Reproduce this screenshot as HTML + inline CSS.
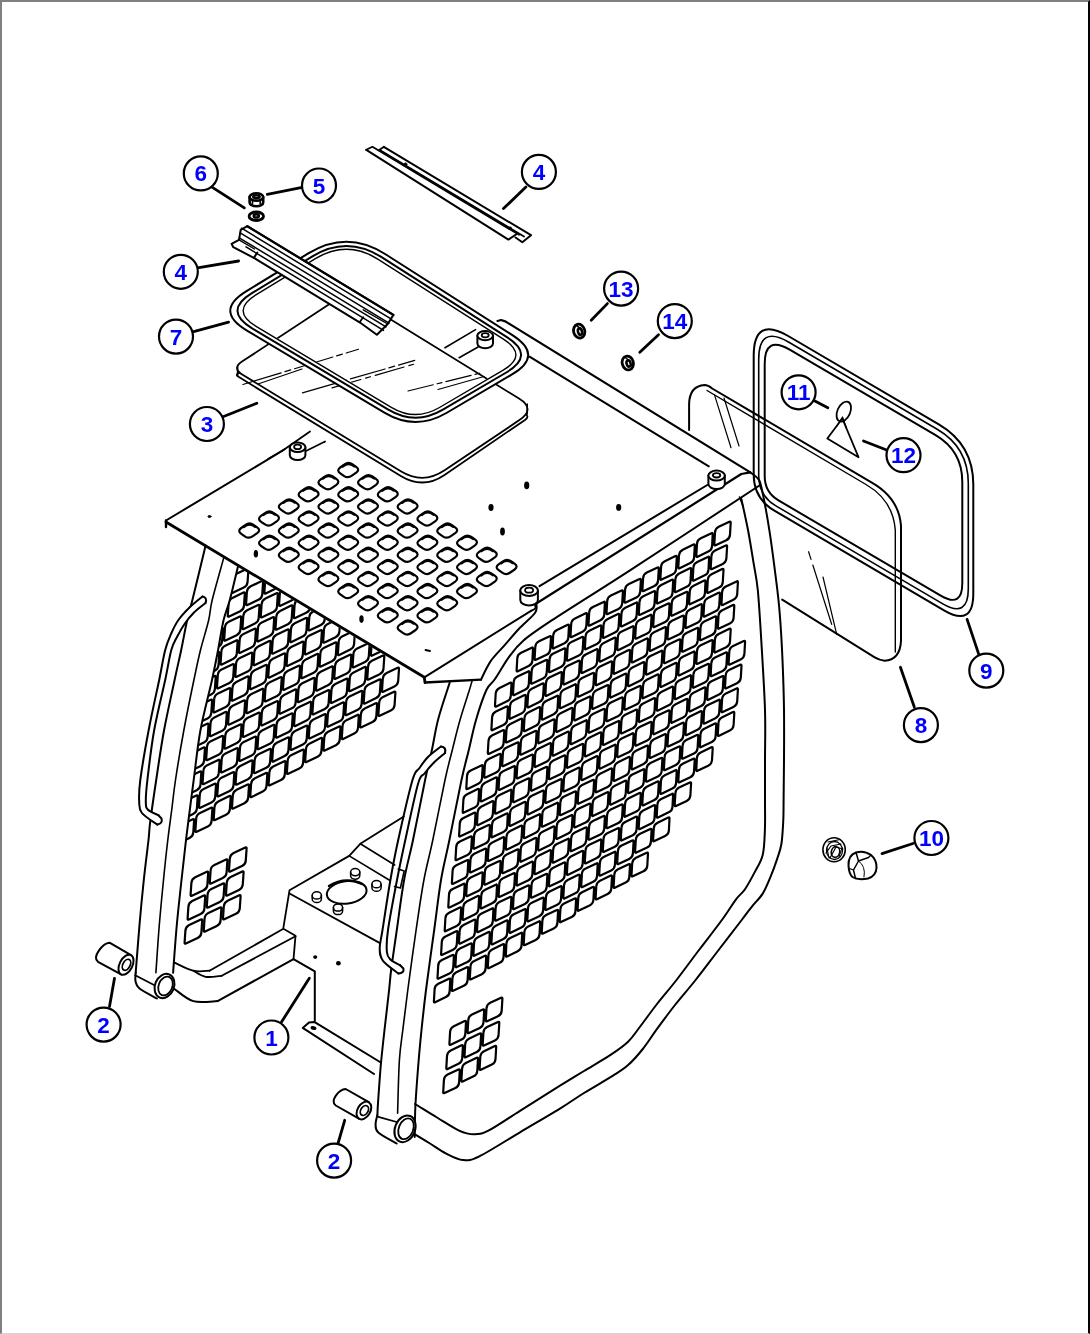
<!DOCTYPE html>
<html lang="en"><head><meta charset="utf-8"><title>Cab guard parts diagram</title>
<style>
html,body{margin:0;padding:0;background:#fff;}
body{width:1090px;height:1334px;overflow:hidden;position:relative;font-family:"Liberation Sans",sans-serif;}
#frame{position:absolute;left:0;top:0;width:1086px;height:1331px;border-top:2px solid #808080;border-left:2px solid #808080;border-right:2px solid #000;border-bottom:1px solid #d8d6d0;background:#fff;}
svg{position:absolute;left:0;top:0;filter:blur(0.45px);}
svg path,svg ellipse,svg circle{fill:none;stroke:#000;stroke-linecap:round;stroke-linejoin:round;}
svg .wf{fill:#fff;}
svg .bf{fill:#000;}
svg text{font-family:"Liberation Sans",sans-serif;font-weight:bold;font-size:22.5px;fill:#0000ff;text-anchor:middle;}
</style></head><body>
<div id="frame"></div>
<svg width="1090" height="1334" viewBox="0 0 1090 1334">
<path d="M166 527 L166 520.5" stroke-width="2.4" />
<path d="M166 520.5 L282 451" stroke-width="2" />
<path d="M166 522 L424.3 677.3 L425 682.5" stroke-width="2.8" />
<path d="M425 682.5 L481 679.6" stroke-width="2.4" />
<path d="M424.3 677.3 L531 610.8" stroke-width="2" />
<path d="M531 610.8 C531.8 610.3 535 609.5 535.5 608 C536 606.5 534.2 603 534 602" stroke-width="1.8" />
<path d="M497.5 321 L501 320 L505.3 321.4 L750.3 472.4" stroke-width="2.2" />
<path d="M529.5 356.7 L708.8 466.3" stroke-width="2" />
<path d="M707.3 485 L539.5 586.2" stroke-width="2" />
<path d="M750.3 472.4 L741.3 474 L536.3 603.5" stroke-width="2.2" />
<path d="M241.3 533.9 Q237.2 531 241.2 528 L245.5 525 Q249.5 522 253.6 524.9 L257.1 527.3 Q261.2 530.2 257.2 533.2 L252.9 536.2 Q248.9 539.2 244.8 536.3Z" stroke-width="2.2" />
<path d="M243.7 527 Q249.5 522 255.2 526.8" stroke-width="2.4" />
<path d="M261.1 546 Q257 543.1 261 540.1 L265.3 537.1 Q269.3 534.1 273.4 537 L276.9 539.4 Q281 542.3 277 545.3 L272.7 548.3 Q268.7 551.3 264.6 548.4Z" stroke-width="2.2" />
<path d="M263.5 539.1 Q269.3 534.1 275 538.9" stroke-width="2.4" />
<path d="M280.9 558.1 Q276.8 555.2 280.8 552.2 L285.1 549.2 Q289.1 546.2 293.2 549.1 L296.7 551.5 Q300.8 554.4 296.8 557.4 L292.5 560.4 Q288.5 563.4 284.4 560.5Z" stroke-width="2.2" />
<path d="M283.3 551.2 Q289.1 546.2 294.8 551" stroke-width="2.4" />
<path d="M300.7 570.2 Q296.6 567.3 300.6 564.3 L304.9 561.3 Q308.9 558.3 313 561.2 L316.5 563.6 Q320.6 566.5 316.6 569.5 L312.3 572.5 Q308.3 575.5 304.2 572.6Z" stroke-width="2.2" />
<path d="M303.1 563.3 Q308.9 558.3 314.6 563.1" stroke-width="2.4" />
<path d="M320.5 582.3 Q316.4 579.4 320.4 576.4 L324.7 573.4 Q328.7 570.4 332.8 573.3 L336.3 575.7 Q340.4 578.6 336.4 581.6 L332.1 584.6 Q328.1 587.6 324 584.7Z" stroke-width="2.2" />
<path d="M322.9 575.4 Q328.7 570.4 334.4 575.2" stroke-width="2.4" />
<path d="M340.3 594.4 Q336.2 591.5 340.2 588.5 L344.5 585.5 Q348.5 582.5 352.6 585.4 L356.1 587.8 Q360.2 590.7 356.2 593.7 L351.9 596.7 Q347.9 599.7 343.8 596.8Z" stroke-width="2.2" />
<path d="M342.7 587.5 Q348.5 582.5 354.2 587.3" stroke-width="2.4" />
<path d="M360.1 606.5 Q356 603.6 360 600.6 L364.3 597.6 Q368.3 594.6 372.4 597.5 L375.9 599.9 Q380 602.8 376 605.8 L371.7 608.8 Q367.7 611.8 363.6 608.9Z" stroke-width="2.2" />
<path d="M362.5 599.6 Q368.3 594.6 374 599.4" stroke-width="2.4" />
<path d="M379.9 618.6 Q375.8 615.7 379.8 612.7 L384.1 609.7 Q388.1 606.7 392.2 609.6 L395.7 612 Q399.8 614.9 395.8 617.9 L391.5 620.9 Q387.5 623.9 383.4 621Z" stroke-width="2.2" />
<path d="M382.3 611.7 Q388.1 606.7 393.8 611.5" stroke-width="2.4" />
<path d="M399.7 630.7 Q395.6 627.8 399.6 624.8 L403.9 621.8 Q407.9 618.8 412 621.7 L415.5 624.1 Q419.6 627 415.6 630 L411.3 633 Q407.3 636 403.2 633.1Z" stroke-width="2.2" />
<path d="M402.1 623.8 Q407.9 618.8 413.6 623.6" stroke-width="2.4" />
<path d="M261.1 521.8 Q257 518.9 261 515.9 L265.3 512.9 Q269.3 509.9 273.4 512.8 L276.9 515.2 Q281 518.1 277 521.1 L272.7 524.1 Q268.7 527.1 264.6 524.2Z" stroke-width="2.2" />
<path d="M263.5 514.9 Q269.3 509.9 275 514.7" stroke-width="2.4" />
<path d="M280.9 533.9 Q276.8 531 280.8 528 L285.1 525 Q289.1 522 293.2 524.9 L296.7 527.3 Q300.8 530.2 296.8 533.2 L292.5 536.2 Q288.5 539.2 284.4 536.3Z" stroke-width="2.2" />
<path d="M283.3 527 Q289.1 522 294.8 526.8" stroke-width="2.4" />
<path d="M300.7 546 Q296.6 543.1 300.6 540.1 L304.9 537.1 Q308.9 534.1 313 537 L316.5 539.4 Q320.6 542.3 316.6 545.3 L312.3 548.3 Q308.3 551.3 304.2 548.4Z" stroke-width="2.2" />
<path d="M303.1 539.1 Q308.9 534.1 314.6 538.9" stroke-width="2.4" />
<path d="M320.5 558.1 Q316.4 555.2 320.4 552.2 L324.7 549.2 Q328.7 546.2 332.8 549.1 L336.3 551.5 Q340.4 554.4 336.4 557.4 L332.1 560.4 Q328.1 563.4 324 560.5Z" stroke-width="2.2" />
<path d="M322.9 551.2 Q328.7 546.2 334.4 551" stroke-width="2.4" />
<path d="M340.3 570.2 Q336.2 567.3 340.2 564.3 L344.5 561.3 Q348.5 558.3 352.6 561.2 L356.1 563.6 Q360.2 566.5 356.2 569.5 L351.9 572.5 Q347.9 575.5 343.8 572.6Z" stroke-width="2.2" />
<path d="M342.7 563.3 Q348.5 558.3 354.2 563.1" stroke-width="2.4" />
<path d="M360.1 582.3 Q356 579.4 360 576.4 L364.3 573.4 Q368.3 570.4 372.4 573.3 L375.9 575.7 Q380 578.6 376 581.6 L371.7 584.6 Q367.7 587.6 363.6 584.7Z" stroke-width="2.2" />
<path d="M362.5 575.4 Q368.3 570.4 374 575.2" stroke-width="2.4" />
<path d="M379.9 594.4 Q375.8 591.5 379.8 588.5 L384.1 585.5 Q388.1 582.5 392.2 585.4 L395.7 587.8 Q399.8 590.7 395.8 593.7 L391.5 596.7 Q387.5 599.7 383.4 596.8Z" stroke-width="2.2" />
<path d="M382.3 587.5 Q388.1 582.5 393.8 587.3" stroke-width="2.4" />
<path d="M399.7 606.5 Q395.6 603.6 399.6 600.6 L403.9 597.6 Q407.9 594.6 412 597.5 L415.5 599.9 Q419.6 602.8 415.6 605.8 L411.3 608.8 Q407.3 611.8 403.2 608.9Z" stroke-width="2.2" />
<path d="M402.1 599.6 Q407.9 594.6 413.6 599.4" stroke-width="2.4" />
<path d="M419.5 618.6 Q415.4 615.7 419.4 612.7 L423.7 609.7 Q427.7 606.7 431.8 609.6 L435.3 612 Q439.4 614.9 435.4 617.9 L431.1 620.9 Q427.1 623.9 423 621Z" stroke-width="2.2" />
<path d="M421.9 611.7 Q427.7 606.7 433.4 611.5" stroke-width="2.4" />
<path d="M280.9 509.7 Q276.8 506.8 280.8 503.8 L285.1 500.8 Q289.1 497.8 293.2 500.7 L296.7 503.1 Q300.8 506 296.8 509 L292.5 512 Q288.5 515 284.4 512.1Z" stroke-width="2.2" />
<path d="M283.3 502.8 Q289.1 497.8 294.8 502.6" stroke-width="2.4" />
<path d="M300.7 521.8 Q296.6 518.9 300.6 515.9 L304.9 512.9 Q308.9 509.9 313 512.8 L316.5 515.2 Q320.6 518.1 316.6 521.1 L312.3 524.1 Q308.3 527.1 304.2 524.2Z" stroke-width="2.2" />
<path d="M303.1 514.9 Q308.9 509.9 314.6 514.7" stroke-width="2.4" />
<path d="M320.5 533.9 Q316.4 531 320.4 528 L324.7 525 Q328.7 522 332.8 524.9 L336.3 527.3 Q340.4 530.2 336.4 533.2 L332.1 536.2 Q328.1 539.2 324 536.3Z" stroke-width="2.2" />
<path d="M322.9 527 Q328.7 522 334.4 526.8" stroke-width="2.4" />
<path d="M340.3 546 Q336.2 543.1 340.2 540.1 L344.5 537.1 Q348.5 534.1 352.6 537 L356.1 539.4 Q360.2 542.3 356.2 545.3 L351.9 548.3 Q347.9 551.3 343.8 548.4Z" stroke-width="2.2" />
<path d="M342.7 539.1 Q348.5 534.1 354.2 538.9" stroke-width="2.4" />
<path d="M360.1 558.1 Q356 555.2 360 552.2 L364.3 549.2 Q368.3 546.2 372.4 549.1 L375.9 551.5 Q380 554.4 376 557.4 L371.7 560.4 Q367.7 563.4 363.6 560.5Z" stroke-width="2.2" />
<path d="M362.5 551.2 Q368.3 546.2 374 551" stroke-width="2.4" />
<path d="M379.9 570.2 Q375.8 567.3 379.8 564.3 L384.1 561.3 Q388.1 558.3 392.2 561.2 L395.7 563.6 Q399.8 566.5 395.8 569.5 L391.5 572.5 Q387.5 575.5 383.4 572.6Z" stroke-width="2.2" />
<path d="M382.3 563.3 Q388.1 558.3 393.8 563.1" stroke-width="2.4" />
<path d="M399.7 582.3 Q395.6 579.4 399.6 576.4 L403.9 573.4 Q407.9 570.4 412 573.3 L415.5 575.7 Q419.6 578.6 415.6 581.6 L411.3 584.6 Q407.3 587.6 403.2 584.7Z" stroke-width="2.2" />
<path d="M402.1 575.4 Q407.9 570.4 413.6 575.2" stroke-width="2.4" />
<path d="M419.5 594.4 Q415.4 591.5 419.4 588.5 L423.7 585.5 Q427.7 582.5 431.8 585.4 L435.3 587.8 Q439.4 590.7 435.4 593.7 L431.1 596.7 Q427.1 599.7 423 596.8Z" stroke-width="2.2" />
<path d="M421.9 587.5 Q427.7 582.5 433.4 587.3" stroke-width="2.4" />
<path d="M439.3 606.5 Q435.2 603.6 439.2 600.6 L443.5 597.6 Q447.5 594.6 451.6 597.5 L455.1 599.9 Q459.2 602.8 455.2 605.8 L450.9 608.8 Q446.9 611.8 442.8 608.9Z" stroke-width="2.2" />
<path d="M441.7 599.6 Q447.5 594.6 453.2 599.4" stroke-width="2.4" />
<path d="M300.7 497.6 Q296.6 494.7 300.6 491.7 L304.9 488.7 Q308.9 485.7 313 488.6 L316.5 491 Q320.6 493.9 316.6 496.9 L312.3 499.9 Q308.3 502.9 304.2 500Z" stroke-width="2.2" />
<path d="M303.1 490.7 Q308.9 485.7 314.6 490.5" stroke-width="2.4" />
<path d="M320.5 509.7 Q316.4 506.8 320.4 503.8 L324.7 500.8 Q328.7 497.8 332.8 500.7 L336.3 503.1 Q340.4 506 336.4 509 L332.1 512 Q328.1 515 324 512.1Z" stroke-width="2.2" />
<path d="M322.9 502.8 Q328.7 497.8 334.4 502.6" stroke-width="2.4" />
<path d="M340.3 521.8 Q336.2 518.9 340.2 515.9 L344.5 512.9 Q348.5 509.9 352.6 512.8 L356.1 515.2 Q360.2 518.1 356.2 521.1 L351.9 524.1 Q347.9 527.1 343.8 524.2Z" stroke-width="2.2" />
<path d="M342.7 514.9 Q348.5 509.9 354.2 514.7" stroke-width="2.4" />
<path d="M360.1 533.9 Q356 531 360 528 L364.3 525 Q368.3 522 372.4 524.9 L375.9 527.3 Q380 530.2 376 533.2 L371.7 536.2 Q367.7 539.2 363.6 536.3Z" stroke-width="2.2" />
<path d="M362.5 527 Q368.3 522 374 526.8" stroke-width="2.4" />
<path d="M379.9 546 Q375.8 543.1 379.8 540.1 L384.1 537.1 Q388.1 534.1 392.2 537 L395.7 539.4 Q399.8 542.3 395.8 545.3 L391.5 548.3 Q387.5 551.3 383.4 548.4Z" stroke-width="2.2" />
<path d="M382.3 539.1 Q388.1 534.1 393.8 538.9" stroke-width="2.4" />
<path d="M399.7 558.1 Q395.6 555.2 399.6 552.2 L403.9 549.2 Q407.9 546.2 412 549.1 L415.5 551.5 Q419.6 554.4 415.6 557.4 L411.3 560.4 Q407.3 563.4 403.2 560.5Z" stroke-width="2.2" />
<path d="M402.1 551.2 Q407.9 546.2 413.6 551" stroke-width="2.4" />
<path d="M419.5 570.2 Q415.4 567.3 419.4 564.3 L423.7 561.3 Q427.7 558.3 431.8 561.2 L435.3 563.6 Q439.4 566.5 435.4 569.5 L431.1 572.5 Q427.1 575.5 423 572.6Z" stroke-width="2.2" />
<path d="M421.9 563.3 Q427.7 558.3 433.4 563.1" stroke-width="2.4" />
<path d="M439.3 582.3 Q435.2 579.4 439.2 576.4 L443.5 573.4 Q447.5 570.4 451.6 573.3 L455.1 575.7 Q459.2 578.6 455.2 581.6 L450.9 584.6 Q446.9 587.6 442.8 584.7Z" stroke-width="2.2" />
<path d="M441.7 575.4 Q447.5 570.4 453.2 575.2" stroke-width="2.4" />
<path d="M459.1 594.4 Q455 591.5 459 588.5 L463.3 585.5 Q467.3 582.5 471.4 585.4 L474.9 587.8 Q479 590.7 475 593.7 L470.7 596.7 Q466.7 599.7 462.6 596.8Z" stroke-width="2.2" />
<path d="M461.5 587.5 Q467.3 582.5 473 587.3" stroke-width="2.4" />
<path d="M320.5 485.5 Q316.4 482.6 320.4 479.6 L324.7 476.6 Q328.7 473.6 332.8 476.5 L336.3 478.9 Q340.4 481.8 336.4 484.8 L332.1 487.8 Q328.1 490.8 324 487.9Z" stroke-width="2.2" />
<path d="M322.9 478.6 Q328.7 473.6 334.4 478.4" stroke-width="2.4" />
<path d="M340.3 497.6 Q336.2 494.7 340.2 491.7 L344.5 488.7 Q348.5 485.7 352.6 488.6 L356.1 491 Q360.2 493.9 356.2 496.9 L351.9 499.9 Q347.9 502.9 343.8 500Z" stroke-width="2.2" />
<path d="M342.7 490.7 Q348.5 485.7 354.2 490.5" stroke-width="2.4" />
<path d="M360.1 509.7 Q356 506.8 360 503.8 L364.3 500.8 Q368.3 497.8 372.4 500.7 L375.9 503.1 Q380 506 376 509 L371.7 512 Q367.7 515 363.6 512.1Z" stroke-width="2.2" />
<path d="M362.5 502.8 Q368.3 497.8 374 502.6" stroke-width="2.4" />
<path d="M379.9 521.8 Q375.8 518.9 379.8 515.9 L384.1 512.9 Q388.1 509.9 392.2 512.8 L395.7 515.2 Q399.8 518.1 395.8 521.1 L391.5 524.1 Q387.5 527.1 383.4 524.2Z" stroke-width="2.2" />
<path d="M382.3 514.9 Q388.1 509.9 393.8 514.7" stroke-width="2.4" />
<path d="M399.7 533.9 Q395.6 531 399.6 528 L403.9 525 Q407.9 522 412 524.9 L415.5 527.3 Q419.6 530.2 415.6 533.2 L411.3 536.2 Q407.3 539.2 403.2 536.3Z" stroke-width="2.2" />
<path d="M402.1 527 Q407.9 522 413.6 526.8" stroke-width="2.4" />
<path d="M419.5 546 Q415.4 543.1 419.4 540.1 L423.7 537.1 Q427.7 534.1 431.8 537 L435.3 539.4 Q439.4 542.3 435.4 545.3 L431.1 548.3 Q427.1 551.3 423 548.4Z" stroke-width="2.2" />
<path d="M421.9 539.1 Q427.7 534.1 433.4 538.9" stroke-width="2.4" />
<path d="M439.3 558.1 Q435.2 555.2 439.2 552.2 L443.5 549.2 Q447.5 546.2 451.6 549.1 L455.1 551.5 Q459.2 554.4 455.2 557.4 L450.9 560.4 Q446.9 563.4 442.8 560.5Z" stroke-width="2.2" />
<path d="M441.7 551.2 Q447.5 546.2 453.2 551" stroke-width="2.4" />
<path d="M459.1 570.2 Q455 567.3 459 564.3 L463.3 561.3 Q467.3 558.3 471.4 561.2 L474.9 563.6 Q479 566.5 475 569.5 L470.7 572.5 Q466.7 575.5 462.6 572.6Z" stroke-width="2.2" />
<path d="M461.5 563.3 Q467.3 558.3 473 563.1" stroke-width="2.4" />
<path d="M478.9 582.3 Q474.8 579.4 478.8 576.4 L483.1 573.4 Q487.1 570.4 491.2 573.3 L494.7 575.7 Q498.8 578.6 494.8 581.6 L490.5 584.6 Q486.5 587.6 482.4 584.7Z" stroke-width="2.2" />
<path d="M481.3 575.4 Q487.1 570.4 492.8 575.2" stroke-width="2.4" />
<path d="M340.3 473.4 Q336.2 470.5 340.2 467.5 L344.5 464.5 Q348.5 461.5 352.6 464.4 L356.1 466.8 Q360.2 469.7 356.2 472.7 L351.9 475.7 Q347.9 478.7 343.8 475.8Z" stroke-width="2.2" />
<path d="M342.7 466.5 Q348.5 461.5 354.2 466.3" stroke-width="2.4" />
<path d="M360.1 485.5 Q356 482.6 360 479.6 L364.3 476.6 Q368.3 473.6 372.4 476.5 L375.9 478.9 Q380 481.8 376 484.8 L371.7 487.8 Q367.7 490.8 363.6 487.9Z" stroke-width="2.2" />
<path d="M362.5 478.6 Q368.3 473.6 374 478.4" stroke-width="2.4" />
<path d="M379.9 497.6 Q375.8 494.7 379.8 491.7 L384.1 488.7 Q388.1 485.7 392.2 488.6 L395.7 491 Q399.8 493.9 395.8 496.9 L391.5 499.9 Q387.5 502.9 383.4 500Z" stroke-width="2.2" />
<path d="M382.3 490.7 Q388.1 485.7 393.8 490.5" stroke-width="2.4" />
<path d="M399.7 509.7 Q395.6 506.8 399.6 503.8 L403.9 500.8 Q407.9 497.8 412 500.7 L415.5 503.1 Q419.6 506 415.6 509 L411.3 512 Q407.3 515 403.2 512.1Z" stroke-width="2.2" />
<path d="M402.1 502.8 Q407.9 497.8 413.6 502.6" stroke-width="2.4" />
<path d="M419.5 521.8 Q415.4 518.9 419.4 515.9 L423.7 512.9 Q427.7 509.9 431.8 512.8 L435.3 515.2 Q439.4 518.1 435.4 521.1 L431.1 524.1 Q427.1 527.1 423 524.2Z" stroke-width="2.2" />
<path d="M421.9 514.9 Q427.7 509.9 433.4 514.7" stroke-width="2.4" />
<path d="M439.3 533.9 Q435.2 531 439.2 528 L443.5 525 Q447.5 522 451.6 524.9 L455.1 527.3 Q459.2 530.2 455.2 533.2 L450.9 536.2 Q446.9 539.2 442.8 536.3Z" stroke-width="2.2" />
<path d="M441.7 527 Q447.5 522 453.2 526.8" stroke-width="2.4" />
<path d="M459.1 546 Q455 543.1 459 540.1 L463.3 537.1 Q467.3 534.1 471.4 537 L474.9 539.4 Q479 542.3 475 545.3 L470.7 548.3 Q466.7 551.3 462.6 548.4Z" stroke-width="2.2" />
<path d="M461.5 539.1 Q467.3 534.1 473 538.9" stroke-width="2.4" />
<path d="M478.9 558.1 Q474.8 555.2 478.8 552.2 L483.1 549.2 Q487.1 546.2 491.2 549.1 L494.7 551.5 Q498.8 554.4 494.8 557.4 L490.5 560.4 Q486.5 563.4 482.4 560.5Z" stroke-width="2.2" />
<path d="M481.3 551.2 Q487.1 546.2 492.8 551" stroke-width="2.4" />
<path d="M498.7 570.2 Q494.6 567.3 498.6 564.3 L502.9 561.3 Q506.9 558.3 511 561.2 L514.5 563.6 Q518.6 566.5 514.6 569.5 L510.3 572.5 Q506.3 575.5 502.2 572.6Z" stroke-width="2.2" />
<path d="M501.1 563.3 Q506.9 558.3 512.6 563.1" stroke-width="2.4" />
<ellipse cx="255.9" cy="553.8" rx="1.4" ry="3" transform="rotate(0 255.9 553.8)" stroke-width="1.6" class="bf"/>
<ellipse cx="361.5" cy="619.1" rx="1.4" ry="3" transform="rotate(0 361.5 619.1)" stroke-width="1.6" class="bf"/>
<ellipse cx="491" cy="507.5" rx="1.8" ry="2.6" transform="rotate(0 491 507.5)" stroke-width="1.6" class="bf"/>
<ellipse cx="502.5" cy="531.6" rx="1.6" ry="3.2" transform="rotate(0 502.5 531.6)" stroke-width="1.6" class="bf"/>
<ellipse cx="526.7" cy="485.4" rx="1.8" ry="3" transform="rotate(0 526.7 485.4)" stroke-width="1.6" class="bf"/>
<ellipse cx="618.7" cy="507.4" rx="1.8" ry="2.6" transform="rotate(0 618.7 507.4)" stroke-width="1.6" class="bf"/>
<path d="M425.5 650 L430 651" stroke-width="1.8" />
<ellipse cx="209.5" cy="516.5" rx="1.5" ry="1" transform="rotate(0 209.5 516.5)" stroke-width="1" class="bf"/>
<path d="M282 451 L310 431.5" stroke-width="1.8" />
<path d="M304 452 L325 441.5" stroke-width="1.8" />
<path d="M268 459 L285 449" stroke-width="1.8" />
<path d="M289.8 447.2 L289.8 455.2 A7.8 4.8 0 0 0 305.4 455.2 L305.4 447.2" stroke-width="2" class="wf"/>
<ellipse cx="297.6" cy="447.2" rx="7.8" ry="4.8" transform="rotate(0 297.6 447.2)" stroke-width="2" class="wf"/>
<ellipse cx="297.6" cy="446.9" rx="3.5" ry="2.2" transform="rotate(0 297.6 446.9)" stroke-width="1.8" />
<path d="M520.3 590.5 L520.3 600 A8.8 5.6 0 0 0 537.9 600 L537.9 590.5" stroke-width="2" class="wf"/>
<ellipse cx="529.1" cy="590.5" rx="8.8" ry="5.6" transform="rotate(0 529.1 590.5)" stroke-width="2" class="wf"/>
<ellipse cx="529.1" cy="590.2" rx="4" ry="2.5" transform="rotate(0 529.1 590.2)" stroke-width="1.8" />
<path d="M708.4 475.6 L708.4 484.1 A8.2 5 0 0 0 724.8 484.1 L724.8 475.6" stroke-width="2" class="wf"/>
<ellipse cx="716.6" cy="475.6" rx="8.2" ry="5" transform="rotate(0 716.6 475.6)" stroke-width="2" class="wf"/>
<ellipse cx="716.6" cy="475.3" rx="3.7" ry="2.2" transform="rotate(0 716.6 475.3)" stroke-width="1.8" />
<path d="M714.3 544.4 Q714.2 545.9 715.6 545.3 L726.3 540.2 Q729.8 538.5 730 534.6 L730.7 522.6 Q730.8 521.1 729.4 521.7 L718.7 526.8 Q715.2 528.5 715 532.4Z M696.3 555.9 Q696.2 557.4 697.6 556.7 L708.3 551.6 Q711.8 550 712.1 546.1 L712.7 534 Q712.8 532.5 711.5 533.2 L700.8 538.3 Q697.2 540 697 543.8Z M678.3 567.3 Q678.3 568.8 679.6 568.2 L690.3 563.1 Q693.9 561.4 694.1 557.5 L694.8 545.5 Q694.9 544 693.5 544.6 L682.8 549.7 Q679.3 551.4 679 555.3Z M660.4 578.8 Q660.3 580.3 661.6 579.6 L672.4 574.5 Q675.9 572.9 676.1 569 L676.8 556.9 Q676.9 555.4 675.5 556.1 L664.8 561.2 Q661.3 562.9 661.1 566.7Z M642.4 590.2 Q642.3 591.7 643.7 591.1 L654.4 586 Q657.9 584.3 658.1 580.4 L658.8 568.4 Q658.9 566.9 657.6 567.5 L646.8 572.6 Q643.3 574.3 643.1 578.2Z M624.4 601.7 Q624.4 603.2 625.7 602.5 L636.4 597.4 Q639.9 595.8 640.2 591.9 L640.9 579.8 Q640.9 578.3 639.6 579 L628.9 584.1 Q625.4 585.8 625.1 589.6Z M606.5 613.1 Q606.4 614.6 607.7 614 L618.5 608.9 Q622 607.2 622.2 603.3 L622.9 591.3 Q623 589.8 621.6 590.4 L610.9 595.5 Q607.4 597.2 607.2 601.1Z M588.5 624.6 Q588.4 626.1 589.8 625.4 L600.5 620.3 Q604 618.6 604.2 614.8 L604.9 602.7 Q605 601.2 603.7 601.9 L592.9 607 Q589.4 608.6 589.2 612.5Z M570.5 636 Q570.4 637.5 571.8 636.9 L582.5 631.8 Q586 630.1 586.3 626.2 L587 614.2 Q587 612.7 585.7 613.3 L575 618.4 Q571.4 620.1 571.2 624Z M552.6 647.5 Q552.5 649 553.8 648.3 L564.5 643.2 Q568.1 641.5 568.3 637.7 L569 625.6 Q569.1 624.1 567.7 624.8 L557 629.9 Q553.5 631.5 553.2 635.4Z M534.6 658.9 Q534.5 660.4 535.9 659.8 L546.6 654.7 Q550.1 653 550.3 649.1 L551 637.1 Q551.1 635.6 549.7 636.2 L539 641.3 Q535.5 643 535.3 646.9Z M516.6 670.4 Q516.5 671.9 517.9 671.2 L528.6 666.1 Q532.1 664.5 532.4 660.6 L533 648.5 Q533.1 647 531.8 647.7 L521.1 652.8 Q517.5 654.5 517.3 658.3Z M710.7 568.1 Q710.6 569.6 712 569 L722.7 563.9 Q726.2 562.2 726.4 558.3 L727.1 546.3 Q727.2 544.8 725.8 545.4 L715.1 550.5 Q711.6 552.2 711.4 556.1Z M692.7 579.6 Q692.6 581.1 694 580.4 L704.7 575.3 Q708.2 573.7 708.5 569.8 L709.1 557.7 Q709.2 556.2 707.9 556.9 L697.2 562 Q693.6 563.7 693.4 567.5Z M674.7 591 Q674.7 592.5 676 591.9 L686.7 586.8 Q690.3 585.1 690.5 581.2 L691.2 569.2 Q691.3 567.7 689.9 568.3 L679.2 573.4 Q675.7 575.1 675.4 579Z M656.8 602.5 Q656.7 604 658 603.3 L668.8 598.2 Q672.3 596.6 672.5 592.7 L673.2 580.6 Q673.3 579.1 671.9 579.8 L661.2 584.9 Q657.7 586.6 657.5 590.4Z M638.8 613.9 Q638.7 615.4 640.1 614.8 L650.8 609.7 Q654.3 608 654.5 604.1 L655.2 592.1 Q655.3 590.6 654 591.2 L643.2 596.3 Q639.7 598 639.5 601.9Z M620.8 625.4 Q620.8 626.9 622.1 626.2 L632.8 621.1 Q636.3 619.5 636.6 615.6 L637.3 603.5 Q637.3 602 636 602.7 L625.3 607.8 Q621.8 609.5 621.5 613.3Z M602.9 636.8 Q602.8 638.3 604.1 637.7 L614.9 632.6 Q618.4 630.9 618.6 627 L619.3 615 Q619.4 613.5 618 614.1 L607.3 619.2 Q603.8 620.9 603.6 624.8Z M584.9 648.3 Q584.8 649.8 586.2 649.1 L596.9 644 Q600.4 642.4 600.6 638.5 L601.3 626.4 Q601.4 624.9 600.1 625.6 L589.3 630.7 Q585.8 632.4 585.6 636.2Z M566.9 659.7 Q566.8 661.2 568.2 660.6 L578.9 655.5 Q582.4 653.8 582.7 649.9 L583.4 637.9 Q583.4 636.4 582.1 637 L571.4 642.1 Q567.8 643.8 567.6 647.7Z M549 671.2 Q548.9 672.7 550.2 672 L560.9 666.9 Q564.5 665.2 564.7 661.4 L565.4 649.3 Q565.5 647.8 564.1 648.5 L553.4 653.6 Q549.9 655.2 549.6 659.1Z M531 682.6 Q530.9 684.1 532.3 683.5 L543 678.4 Q546.5 676.7 546.7 672.8 L547.4 660.8 Q547.5 659.3 546.1 659.9 L535.4 665 Q531.9 666.7 531.7 670.6Z M513 694.1 Q512.9 695.6 514.3 694.9 L525 689.8 Q528.5 688.2 528.8 684.3 L529.4 672.2 Q529.5 670.8 528.2 671.4 L517.5 676.5 Q513.9 678.2 513.7 682Z M495 705.5 Q495 707 496.3 706.4 L507 701.3 Q510.6 699.6 510.8 695.7 L511.5 683.7 Q511.6 682.2 510.2 682.8 L499.5 687.9 Q496 689.6 495.7 693.5Z M707.1 591.8 Q707 593.3 708.4 592.7 L719.1 587.6 Q722.6 585.9 722.8 582 L723.5 570 Q723.6 568.5 722.2 569.1 L711.5 574.2 Q708 575.9 707.8 579.8Z M689.1 603.3 Q689 604.8 690.4 604.1 L701.1 599 Q704.6 597.4 704.9 593.5 L705.5 581.4 Q705.6 579.9 704.3 580.6 L693.6 585.7 Q690 587.4 689.8 591.2Z M671.1 614.7 Q671.1 616.2 672.4 615.6 L683.1 610.5 Q686.7 608.8 686.9 604.9 L687.6 592.9 Q687.7 591.4 686.3 592 L675.6 597.1 Q672.1 598.8 671.8 602.7Z M653.2 626.2 Q653.1 627.7 654.4 627 L665.2 621.9 Q668.7 620.2 668.9 616.4 L669.6 604.3 Q669.7 602.8 668.3 603.5 L657.6 608.6 Q654.1 610.2 653.9 614.1Z M635.2 637.6 Q635.1 639.1 636.5 638.5 L647.2 633.4 Q650.7 631.7 650.9 627.8 L651.6 615.8 Q651.7 614.3 650.4 614.9 L639.6 620 Q636.1 621.7 635.9 625.6Z M617.2 649.1 Q617.1 650.6 618.5 649.9 L629.2 644.8 Q632.7 643.1 633 639.3 L633.7 627.2 Q633.7 625.7 632.4 626.4 L621.7 631.5 Q618.1 633.1 617.9 637Z M599.3 660.5 Q599.2 662 600.5 661.4 L611.3 656.3 Q614.8 654.6 615 650.7 L615.7 638.7 Q615.8 637.2 614.4 637.8 L603.7 642.9 Q600.2 644.6 600 648.5Z M581.3 672 Q581.2 673.5 582.6 672.8 L593.3 667.7 Q596.8 666 597 662.2 L597.7 650.1 Q597.8 648.6 596.5 649.3 L585.7 654.4 Q582.2 656 582 659.9Z M563.3 683.4 Q563.2 684.9 564.6 684.3 L575.3 679.2 Q578.8 677.5 579.1 673.6 L579.8 661.6 Q579.8 660.1 578.5 660.7 L567.8 665.8 Q564.2 667.5 564 671.4Z M545.4 694.9 Q545.3 696.4 546.6 695.7 L557.3 690.6 Q560.9 688.9 561.1 685.1 L561.8 673 Q561.9 671.5 560.5 672.2 L549.8 677.3 Q546.3 678.9 546 682.8Z M527.4 706.3 Q527.3 707.8 528.7 707.2 L539.4 702.1 Q542.9 700.4 543.1 696.5 L543.8 684.5 Q543.9 683 542.5 683.6 L531.8 688.7 Q528.3 690.4 528.1 694.3Z M509.4 717.8 Q509.3 719.3 510.7 718.6 L521.4 713.5 Q524.9 711.9 525.2 708 L525.8 695.9 Q525.9 694.4 524.6 695.1 L513.9 700.2 Q510.3 701.9 510.1 705.7Z M491.4 729.2 Q491.4 730.7 492.7 730.1 L503.4 725 Q507 723.3 507.2 719.4 L507.9 707.4 Q508 705.9 506.6 706.5 L495.9 711.6 Q492.4 713.3 492.1 717.2Z M721.5 604.1 Q721.4 605.6 722.7 604.9 L733.4 599.8 Q737 598.1 737.2 594.3 L737.9 582.2 Q738 580.7 736.6 581.4 L725.9 586.5 Q722.4 588.1 722.1 592Z M703.5 615.5 Q703.4 617 704.8 616.4 L715.5 611.3 Q719 609.6 719.2 605.7 L719.9 593.7 Q720 592.2 718.6 592.8 L707.9 597.9 Q704.4 599.6 704.2 603.5Z M685.5 627 Q685.4 628.5 686.8 627.8 L697.5 622.7 Q701 621.1 701.3 617.2 L701.9 605.1 Q702 603.6 700.7 604.3 L690 609.4 Q686.4 611.1 686.2 614.9Z M667.5 638.4 Q667.5 639.9 668.8 639.3 L679.5 634.2 Q683.1 632.5 683.3 628.6 L684 616.6 Q684.1 615.1 682.7 615.7 L672 620.8 Q668.5 622.5 668.2 626.4Z M649.6 649.9 Q649.5 651.4 650.8 650.7 L661.6 645.6 Q665.1 644 665.3 640.1 L666 628 Q666.1 626.5 664.7 627.2 L654 632.3 Q650.5 634 650.3 637.8Z M631.6 661.3 Q631.5 662.8 632.9 662.2 L643.6 657.1 Q647.1 655.4 647.3 651.5 L648 639.5 Q648.1 638 646.8 638.6 L636 643.7 Q632.5 645.4 632.3 649.3Z M613.6 672.8 Q613.6 674.3 614.9 673.6 L625.6 668.5 Q629.1 666.9 629.4 663 L630.1 650.9 Q630.1 649.4 628.8 650.1 L618.1 655.2 Q614.6 656.9 614.3 660.7Z M595.7 684.2 Q595.6 685.7 596.9 685.1 L607.7 680 Q611.2 678.3 611.4 674.4 L612.1 662.4 Q612.2 660.9 610.8 661.5 L600.1 666.6 Q596.6 668.3 596.4 672.2Z M577.7 695.7 Q577.6 697.2 579 696.5 L589.7 691.4 Q593.2 689.8 593.4 685.9 L594.1 673.8 Q594.2 672.3 592.9 673 L582.1 678.1 Q578.6 679.8 578.4 683.6Z M559.7 707.1 Q559.6 708.6 561 708 L571.7 702.9 Q575.2 701.2 575.5 697.3 L576.2 685.3 Q576.2 683.8 574.9 684.4 L564.2 689.5 Q560.6 691.2 560.4 695.1Z M541.8 718.6 Q541.7 720.1 543 719.4 L553.7 714.3 Q557.3 712.6 557.5 708.8 L558.2 696.7 Q558.3 695.2 556.9 695.9 L546.2 701 Q542.7 702.6 542.4 706.5Z M523.8 730 Q523.7 731.5 525.1 730.9 L535.8 725.8 Q539.3 724.1 539.5 720.2 L540.2 708.2 Q540.3 706.7 538.9 707.3 L528.2 712.4 Q524.7 714.1 524.5 718Z M505.8 741.5 Q505.7 743 507.1 742.3 L517.8 737.2 Q521.3 735.6 521.6 731.7 L522.2 719.6 Q522.3 718.1 521 718.8 L510.3 723.9 Q506.7 725.6 506.5 729.4Z M487.8 752.9 Q487.8 754.4 489.1 753.8 L499.8 748.7 Q503.4 747 503.6 743.1 L504.3 731.1 Q504.4 729.6 503 730.2 L492.3 735.3 Q488.8 737 488.5 740.9Z M717.9 627.8 Q717.8 629.2 719.1 628.6 L729.8 623.5 Q733.4 621.8 733.6 618 L734.3 605.9 Q734.4 604.4 733 605.1 L722.3 610.2 Q718.8 611.8 718.5 615.7Z M699.9 639.2 Q699.8 640.7 701.2 640.1 L711.9 635 Q715.4 633.3 715.6 629.4 L716.3 617.4 Q716.4 615.9 715 616.5 L704.3 621.6 Q700.8 623.3 700.6 627.2Z M681.9 650.7 Q681.8 652.2 683.2 651.5 L693.9 646.4 Q697.4 644.8 697.7 640.9 L698.3 628.8 Q698.4 627.3 697.1 628 L686.4 633.1 Q682.8 634.8 682.6 638.6Z M663.9 662.1 Q663.9 663.6 665.2 663 L675.9 657.9 Q679.5 656.2 679.7 652.3 L680.4 640.3 Q680.5 638.8 679.1 639.4 L668.4 644.5 Q664.9 646.2 664.6 650.1Z M646 673.6 Q645.9 675.1 647.2 674.4 L658 669.3 Q661.5 667.6 661.7 663.8 L662.4 651.7 Q662.5 650.2 661.1 650.9 L650.4 656 Q646.9 657.6 646.7 661.5Z M628 685 Q627.9 686.5 629.3 685.9 L640 680.8 Q643.5 679.1 643.7 675.2 L644.4 663.2 Q644.5 661.7 643.2 662.3 L632.4 667.4 Q628.9 669.1 628.7 673Z M610 696.5 Q610 698 611.3 697.3 L622 692.2 Q625.5 690.5 625.8 686.7 L626.5 674.6 Q626.5 673.1 625.2 673.8 L614.5 678.9 Q611 680.5 610.7 684.4Z M592.1 707.9 Q592 709.4 593.3 708.8 L604.1 703.7 Q607.6 702 607.8 698.1 L608.5 686.1 Q608.6 684.6 607.2 685.2 L596.5 690.3 Q593 692 592.8 695.9Z M574.1 719.4 Q574 720.9 575.4 720.2 L586.1 715.1 Q589.6 713.4 589.8 709.6 L590.5 697.5 Q590.6 696 589.3 696.7 L578.5 701.8 Q575 703.4 574.8 707.3Z M556.1 730.8 Q556 732.3 557.4 731.7 L568.1 726.6 Q571.6 724.9 571.9 721 L572.6 709 Q572.6 707.5 571.3 708.1 L560.6 713.2 Q557 714.9 556.8 718.8Z M538.2 742.3 Q538.1 743.8 539.4 743.1 L550.1 738 Q553.7 736.3 553.9 732.5 L554.6 720.4 Q554.7 718.9 553.3 719.6 L542.6 724.7 Q539.1 726.3 538.8 730.2Z M520.2 753.7 Q520.1 755.2 521.5 754.6 L532.2 749.5 Q535.7 747.8 535.9 743.9 L536.6 731.9 Q536.7 730.4 535.3 731 L524.6 736.1 Q521.1 737.8 520.9 741.7Z M502.2 765.2 Q502.1 766.7 503.5 766 L514.2 760.9 Q517.7 759.2 518 755.4 L518.6 743.3 Q518.7 741.8 517.4 742.5 L506.7 747.6 Q503.1 749.2 502.9 753.1Z M484.2 776.6 Q484.2 778.1 485.5 777.5 L496.2 772.4 Q499.8 770.7 500 766.8 L500.7 754.8 Q500.8 753.3 499.4 753.9 L488.7 759 Q485.2 760.7 484.9 764.6Z M466.3 788.1 Q466.2 789.6 467.5 788.9 L478.3 783.8 Q481.8 782.1 482 778.3 L482.7 766.2 Q482.8 764.7 481.4 765.4 L470.7 770.5 Q467.2 772.1 467 776Z M714.3 651.5 Q714.2 653 715.5 652.3 L726.2 647.2 Q729.8 645.5 730 641.7 L730.7 629.6 Q730.8 628.1 729.4 628.8 L718.7 633.9 Q715.2 635.5 714.9 639.4Z M696.3 662.9 Q696.2 664.4 697.6 663.8 L708.3 658.7 Q711.8 657 712 653.1 L712.7 641.1 Q712.8 639.6 711.4 640.2 L700.7 645.3 Q697.2 647 697 650.9Z M678.3 674.4 Q678.2 675.9 679.6 675.2 L690.3 670.1 Q693.8 668.5 694.1 664.6 L694.7 652.5 Q694.8 651 693.5 651.7 L682.8 656.8 Q679.2 658.5 679 662.3Z M660.3 685.8 Q660.3 687.3 661.6 686.7 L672.3 681.6 Q675.9 679.9 676.1 676 L676.8 664 Q676.9 662.5 675.5 663.1 L664.8 668.2 Q661.3 669.9 661 673.8Z M642.4 697.3 Q642.3 698.8 643.6 698.1 L654.4 693 Q657.9 691.4 658.1 687.5 L658.8 675.4 Q658.9 673.9 657.5 674.6 L646.8 679.7 Q643.3 681.4 643.1 685.2Z M624.4 708.7 Q624.3 710.2 625.7 709.6 L636.4 704.5 Q639.9 702.8 640.1 698.9 L640.8 686.9 Q640.9 685.4 639.6 686 L628.8 691.1 Q625.3 692.8 625.1 696.7Z M606.4 720.2 Q606.4 721.7 607.7 721 L618.4 715.9 Q621.9 714.2 622.2 710.4 L622.9 698.3 Q622.9 696.8 621.6 697.5 L610.9 702.6 Q607.4 704.2 607.1 708.1Z M588.5 731.6 Q588.4 733.1 589.7 732.5 L600.5 727.4 Q604 725.7 604.2 721.8 L604.9 709.8 Q605 708.3 603.6 708.9 L592.9 714 Q589.4 715.7 589.2 719.6Z M570.5 743.1 Q570.4 744.6 571.8 743.9 L582.5 738.8 Q586 737.1 586.2 733.3 L586.9 721.2 Q587 719.7 585.7 720.4 L574.9 725.5 Q571.4 727.1 571.2 731Z M552.5 754.5 Q552.4 756 553.8 755.4 L564.5 750.3 Q568 748.6 568.3 744.7 L569 732.7 Q569 731.2 567.7 731.8 L557 736.9 Q553.4 738.6 553.2 742.5Z M534.6 766 Q534.5 767.5 535.8 766.8 L546.5 761.7 Q550.1 760 550.3 756.2 L551 744.1 Q551.1 742.6 549.7 743.3 L539 748.4 Q535.5 750 535.2 753.9Z M516.6 777.4 Q516.5 778.9 517.9 778.3 L528.6 773.2 Q532.1 771.5 532.3 767.6 L533 755.6 Q533.1 754.1 531.7 754.7 L521 759.8 Q517.5 761.5 517.3 765.4Z M498.6 788.9 Q498.5 790.4 499.9 789.7 L510.6 784.6 Q514.1 783 514.4 779.1 L515 767 Q515.1 765.5 513.8 766.2 L503.1 771.3 Q499.5 773 499.3 776.8Z M480.6 800.3 Q480.6 801.8 481.9 801.2 L492.6 796.1 Q496.2 794.4 496.4 790.5 L497.1 778.5 Q497.2 777 495.8 777.6 L485.1 782.7 Q481.6 784.4 481.3 788.3Z M462.7 811.8 Q462.6 813.3 463.9 812.6 L474.7 807.5 Q478.2 805.9 478.4 802 L479.1 789.9 Q479.2 788.4 477.8 789.1 L467.1 794.2 Q463.6 795.9 463.4 799.7Z M728.6 663.7 Q728.5 665.2 729.9 664.6 L740.6 659.5 Q744.1 657.8 744.4 653.9 L745.1 641.9 Q745.1 640.4 743.8 641 L733.1 646.1 Q729.5 647.8 729.3 651.7Z M710.7 675.2 Q710.6 676.7 711.9 676 L722.6 670.9 Q726.2 669.2 726.4 665.4 L727.1 653.3 Q727.2 651.8 725.8 652.5 L715.1 657.6 Q711.6 659.2 711.3 663.1Z M692.7 686.6 Q692.6 688.1 694 687.5 L704.7 682.4 Q708.2 680.7 708.4 676.8 L709.1 664.8 Q709.2 663.3 707.8 663.9 L697.1 669 Q693.6 670.7 693.4 674.6Z M674.7 698.1 Q674.6 699.6 676 698.9 L686.7 693.8 Q690.2 692.2 690.5 688.3 L691.1 676.2 Q691.2 674.8 689.9 675.4 L679.2 680.5 Q675.6 682.2 675.4 686Z M656.7 709.5 Q656.7 711 658 710.4 L668.7 705.3 Q672.3 703.6 672.5 699.7 L673.2 687.7 Q673.3 686.2 671.9 686.8 L661.2 691.9 Q657.7 693.6 657.4 697.5Z M638.8 721 Q638.7 722.5 640 721.8 L650.8 716.7 Q654.3 715 654.5 711.2 L655.2 699.1 Q655.3 697.6 653.9 698.3 L643.2 703.4 Q639.7 705 639.5 708.9Z M620.8 732.4 Q620.7 733.9 622.1 733.3 L632.8 728.2 Q636.3 726.5 636.5 722.6 L637.2 710.6 Q637.3 709.1 636 709.7 L625.2 714.8 Q621.7 716.5 621.5 720.4Z M602.8 743.9 Q602.8 745.4 604.1 744.7 L614.8 739.6 Q618.3 738 618.6 734.1 L619.3 722 Q619.3 720.5 618 721.2 L607.3 726.3 Q603.8 728 603.5 731.8Z M584.9 755.3 Q584.8 756.8 586.1 756.2 L596.9 751.1 Q600.4 749.4 600.6 745.5 L601.3 733.5 Q601.4 732 600 732.6 L589.3 737.7 Q585.8 739.4 585.6 743.3Z M566.9 766.8 Q566.8 768.2 568.2 767.6 L578.9 762.5 Q582.4 760.8 582.6 757 L583.3 744.9 Q583.4 743.4 582.1 744.1 L571.3 749.2 Q567.8 750.8 567.6 754.7Z M548.9 778.2 Q548.8 779.7 550.2 779.1 L560.9 774 Q564.4 772.3 564.7 768.4 L565.4 756.4 Q565.4 754.9 564.1 755.5 L553.4 760.6 Q549.8 762.3 549.6 766.2Z M531 789.7 Q530.9 791.2 532.2 790.5 L542.9 785.4 Q546.5 783.8 546.7 779.9 L547.4 767.8 Q547.5 766.3 546.1 767 L535.4 772.1 Q531.9 773.8 531.6 777.6Z M513 801.1 Q512.9 802.6 514.3 802 L525 796.9 Q528.5 795.2 528.7 791.3 L529.4 779.3 Q529.5 777.8 528.1 778.4 L517.4 783.5 Q513.9 785.2 513.7 789.1Z M495 812.6 Q494.9 814.1 496.3 813.4 L507 808.3 Q510.5 806.7 510.8 802.8 L511.4 790.7 Q511.5 789.2 510.2 789.9 L499.5 795 Q495.9 796.7 495.7 800.5Z M477 824 Q477 825.5 478.3 824.9 L489 819.8 Q492.6 818.1 492.8 814.2 L493.5 802.2 Q493.6 800.7 492.2 801.3 L481.5 806.4 Q478 808.1 477.7 812Z M459.1 835.5 Q459 837 460.3 836.3 L471.1 831.2 Q474.6 829.5 474.8 825.7 L475.5 813.6 Q475.6 812.1 474.2 812.8 L463.5 817.9 Q460 819.5 459.8 823.4Z M725 687.4 Q724.9 688.9 726.3 688.3 L737 683.2 Q740.5 681.5 740.8 677.6 L741.5 665.6 Q741.5 664.1 740.2 664.7 L729.5 669.8 Q725.9 671.5 725.7 675.4Z M707.1 698.9 Q707 700.4 708.3 699.7 L719 694.6 Q722.6 692.9 722.8 689.1 L723.5 677 Q723.6 675.5 722.2 676.2 L711.5 681.3 Q708 682.9 707.7 686.8Z M689.1 710.3 Q689 711.8 690.4 711.2 L701.1 706.1 Q704.6 704.4 704.8 700.5 L705.5 688.5 Q705.6 687 704.2 687.6 L693.5 692.7 Q690 694.4 689.8 698.3Z M671.1 721.8 Q671 723.3 672.4 722.6 L683.1 717.5 Q686.6 715.9 686.9 712 L687.5 699.9 Q687.6 698.4 686.3 699.1 L675.6 704.2 Q672 705.9 671.8 709.7Z M653.1 733.2 Q653.1 734.7 654.4 734.1 L665.1 729 Q668.7 727.3 668.9 723.4 L669.6 711.4 Q669.7 709.9 668.3 710.5 L657.6 715.6 Q654.1 717.3 653.8 721.2Z M635.2 744.7 Q635.1 746.2 636.4 745.5 L647.2 740.4 Q650.7 738.8 650.9 734.9 L651.6 722.8 Q651.7 721.3 650.3 722 L639.6 727.1 Q636.1 728.8 635.9 732.6Z M617.2 756.1 Q617.1 757.6 618.5 757 L629.2 751.9 Q632.7 750.2 632.9 746.3 L633.6 734.3 Q633.7 732.8 632.4 733.4 L621.6 738.5 Q618.1 740.2 617.9 744.1Z M599.2 767.6 Q599.1 769.1 600.5 768.4 L611.2 763.3 Q614.7 761.6 615 757.8 L615.7 745.7 Q615.7 744.2 614.4 744.9 L603.7 750 Q600.1 751.6 599.9 755.5Z M581.3 779 Q581.2 780.5 582.5 779.9 L593.3 774.8 Q596.8 773.1 597 769.2 L597.7 757.2 Q597.8 755.7 596.4 756.3 L585.7 761.4 Q582.2 763.1 582 767Z M563.3 790.5 Q563.2 792 564.6 791.3 L575.3 786.2 Q578.8 784.5 579 780.7 L579.7 768.6 Q579.8 767.1 578.5 767.8 L567.7 772.9 Q564.2 774.5 564 778.4Z M545.3 801.9 Q545.2 803.4 546.6 802.8 L557.3 797.7 Q560.8 796 561.1 792.1 L561.8 780.1 Q561.8 778.6 560.5 779.2 L549.8 784.3 Q546.2 786 546 789.9Z M527.4 813.4 Q527.3 814.9 528.6 814.2 L539.3 809.1 Q542.9 807.4 543.1 803.6 L543.8 791.5 Q543.9 790 542.5 790.7 L531.8 795.8 Q528.3 797.4 528 801.3Z M509.4 824.8 Q509.3 826.3 510.7 825.7 L521.4 820.6 Q524.9 818.9 525.1 815 L525.8 803 Q525.9 801.5 524.5 802.1 L513.8 807.2 Q510.3 808.9 510.1 812.8Z M491.4 836.3 Q491.3 837.8 492.7 837.1 L503.4 832 Q506.9 830.4 507.2 826.5 L507.8 814.4 Q507.9 812.9 506.6 813.6 L495.9 818.7 Q492.3 820.4 492.1 824.2Z M473.4 847.7 Q473.4 849.2 474.7 848.6 L485.4 843.5 Q489 841.8 489.2 837.9 L489.9 825.9 Q490 824.4 488.6 825 L477.9 830.1 Q474.4 831.8 474.1 835.7Z M455.5 859.2 Q455.4 860.7 456.7 860 L467.5 854.9 Q471 853.2 471.2 849.4 L471.9 837.3 Q472 835.8 470.6 836.5 L459.9 841.6 Q456.4 843.2 456.2 847.1Z M721.4 711.1 Q721.3 712.6 722.7 712 L733.4 706.9 Q736.9 705.2 737.2 701.3 L737.9 689.3 Q737.9 687.8 736.6 688.4 L725.9 693.5 Q722.3 695.2 722.1 699.1Z M703.5 722.6 Q703.4 724.1 704.7 723.4 L715.4 718.3 Q719 716.6 719.2 712.8 L719.9 700.7 Q720 699.2 718.6 699.9 L707.9 705 Q704.4 706.6 704.1 710.5Z M685.5 734 Q685.4 735.5 686.8 734.9 L697.5 729.8 Q701 728.1 701.2 724.2 L701.9 712.2 Q702 710.7 700.6 711.3 L689.9 716.4 Q686.4 718.1 686.2 722Z M667.5 745.5 Q667.4 747 668.8 746.3 L679.5 741.2 Q683 739.6 683.3 735.7 L683.9 723.6 Q684 722.1 682.7 722.8 L672 727.9 Q668.4 729.6 668.2 733.4Z M649.5 756.9 Q649.5 758.4 650.8 757.8 L661.5 752.7 Q665.1 751 665.3 747.1 L666 735.1 Q666.1 733.6 664.7 734.2 L654 739.3 Q650.5 741 650.2 744.9Z M631.6 768.4 Q631.5 769.9 632.8 769.2 L643.6 764.1 Q647.1 762.5 647.3 758.6 L648 746.5 Q648.1 745 646.7 745.7 L636 750.8 Q632.5 752.5 632.3 756.3Z M613.6 779.8 Q613.5 781.3 614.9 780.7 L625.6 775.6 Q629.1 773.9 629.3 770 L630 758 Q630.1 756.5 628.8 757.1 L618 762.2 Q614.5 763.9 614.3 767.8Z M595.6 791.3 Q595.6 792.8 596.9 792.1 L607.6 787 Q611.1 785.4 611.4 781.5 L612.1 769.4 Q612.1 767.9 610.8 768.6 L600.1 773.7 Q596.6 775.4 596.3 779.2Z M577.7 802.7 Q577.6 804.2 578.9 803.6 L589.7 798.5 Q593.2 796.8 593.4 792.9 L594.1 780.9 Q594.2 779.4 592.8 780 L582.1 785.1 Q578.6 786.8 578.4 790.7Z M559.7 814.2 Q559.6 815.7 561 815 L571.7 809.9 Q575.2 808.2 575.4 804.4 L576.1 792.3 Q576.2 790.8 574.9 791.5 L564.1 796.6 Q560.6 798.2 560.4 802.1Z M541.7 825.6 Q541.6 827.1 543 826.5 L553.7 821.4 Q557.2 819.7 557.5 815.8 L558.2 803.8 Q558.2 802.3 556.9 802.9 L546.2 808 Q542.6 809.7 542.4 813.6Z M523.8 837.1 Q523.7 838.6 525 837.9 L535.7 832.8 Q539.3 831.1 539.5 827.3 L540.2 815.2 Q540.3 813.7 538.9 814.4 L528.2 819.5 Q524.7 821.1 524.4 825Z M505.8 848.5 Q505.7 850 507.1 849.4 L517.8 844.3 Q521.3 842.6 521.5 838.7 L522.2 826.7 Q522.3 825.2 520.9 825.8 L510.2 830.9 Q506.7 832.6 506.5 836.5Z M487.8 860 Q487.7 861.5 489.1 860.8 L499.8 855.7 Q503.3 854.1 503.6 850.2 L504.2 838.1 Q504.3 836.6 503 837.3 L492.3 842.4 Q488.7 844.1 488.5 847.9Z M469.8 871.4 Q469.8 872.9 471.1 872.3 L481.8 867.2 Q485.4 865.5 485.6 861.6 L486.3 849.6 Q486.4 848.1 485 848.7 L474.3 853.8 Q470.8 855.5 470.5 859.4Z M451.9 882.9 Q451.8 884.4 453.1 883.7 L463.9 878.6 Q467.4 877 467.6 873.1 L468.3 861 Q468.4 859.5 467 860.2 L456.3 865.3 Q452.8 867 452.6 870.8Z M717.8 734.8 Q717.7 736.3 719.1 735.7 L729.8 730.6 Q733.3 728.9 733.6 725 L734.3 713 Q734.3 711.5 733 712.1 L722.3 717.2 Q718.7 718.9 718.5 722.8Z M699.9 746.3 Q699.8 747.8 701.1 747.1 L711.8 742 Q715.4 740.3 715.6 736.5 L716.3 724.4 Q716.4 722.9 715 723.6 L704.3 728.7 Q700.8 730.3 700.5 734.2Z M681.9 757.7 Q681.8 759.2 683.2 758.6 L693.9 753.5 Q697.4 751.8 697.6 747.9 L698.3 735.9 Q698.4 734.4 697 735 L686.3 740.1 Q682.8 741.8 682.6 745.7Z M663.9 769.2 Q663.8 770.7 665.2 770 L675.9 764.9 Q679.4 763.2 679.7 759.4 L680.3 747.3 Q680.4 745.8 679.1 746.5 L668.4 751.6 Q664.8 753.2 664.6 757.1Z M645.9 780.6 Q645.9 782.1 647.2 781.5 L657.9 776.4 Q661.5 774.7 661.7 770.8 L662.4 758.8 Q662.5 757.3 661.1 757.9 L650.4 763 Q646.9 764.7 646.6 768.6Z M628 792.1 Q627.9 793.6 629.2 792.9 L640 787.8 Q643.5 786.1 643.7 782.3 L644.4 770.2 Q644.5 768.7 643.1 769.4 L632.4 774.5 Q628.9 776.1 628.7 780Z M610 803.5 Q609.9 805 611.3 804.4 L622 799.3 Q625.5 797.6 625.7 793.7 L626.4 781.7 Q626.5 780.2 625.2 780.8 L614.4 785.9 Q610.9 787.6 610.7 791.5Z M592 815 Q592 816.5 593.3 815.8 L604 810.7 Q607.5 809 607.8 805.2 L608.5 793.1 Q608.5 791.6 607.2 792.3 L596.5 797.4 Q593 799 592.7 802.9Z M574.1 826.4 Q574 827.9 575.3 827.3 L586.1 822.2 Q589.6 820.5 589.8 816.6 L590.5 804.6 Q590.6 803.1 589.2 803.7 L578.5 808.8 Q575 810.5 574.8 814.4Z M556.1 837.9 Q556 839.4 557.4 838.7 L568.1 833.6 Q571.6 831.9 571.8 828.1 L572.5 816 Q572.6 814.5 571.3 815.2 L560.5 820.3 Q557 821.9 556.8 825.8Z M538.1 849.3 Q538 850.8 539.4 850.2 L550.1 845.1 Q553.6 843.4 553.9 839.5 L554.6 827.5 Q554.6 826 553.3 826.6 L542.6 831.7 Q539 833.4 538.8 837.3Z M520.2 860.8 Q520.1 862.2 521.4 861.6 L532.1 856.5 Q535.7 854.8 535.9 851 L536.6 838.9 Q536.7 837.4 535.3 838.1 L524.6 843.2 Q521.1 844.8 520.8 848.7Z M502.2 872.2 Q502.1 873.7 503.5 873.1 L514.2 868 Q517.7 866.3 517.9 862.4 L518.6 850.4 Q518.7 848.9 517.3 849.5 L506.6 854.6 Q503.1 856.3 502.9 860.2Z M484.2 883.7 Q484.1 885.2 485.5 884.5 L496.2 879.4 Q499.7 877.8 500 873.9 L500.6 861.8 Q500.7 860.3 499.4 861 L488.7 866.1 Q485.1 867.8 484.9 871.6Z M466.2 895.1 Q466.2 896.6 467.5 896 L478.2 890.9 Q481.8 889.2 482 885.3 L482.7 873.3 Q482.8 871.8 481.4 872.4 L470.7 877.5 Q467.2 879.2 466.9 883.1Z M448.3 906.6 Q448.2 908.1 449.5 907.4 L460.3 902.3 Q463.8 900.6 464 896.8 L464.7 884.7 Q464.8 883.2 463.4 883.9 L452.7 889 Q449.2 890.6 449 894.5Z M696.3 770 Q696.2 771.5 697.5 770.8 L708.2 765.7 Q711.8 764 712 760.2 L712.7 748.1 Q712.8 746.6 711.4 747.3 L700.7 752.4 Q697.2 754 696.9 757.9Z M678.3 781.4 Q678.2 782.9 679.6 782.3 L690.3 777.2 Q693.8 775.5 694 771.6 L694.7 759.6 Q694.8 758.1 693.4 758.7 L682.7 763.8 Q679.2 765.5 679 769.4Z M660.3 792.9 Q660.2 794.4 661.6 793.7 L672.3 788.6 Q675.8 787 676.1 783.1 L676.7 771 Q676.8 769.5 675.5 770.2 L664.8 775.3 Q661.2 777 661 780.8Z M642.3 804.3 Q642.3 805.8 643.6 805.2 L654.3 800.1 Q657.9 798.4 658.1 794.5 L658.8 782.5 Q658.9 781 657.5 781.6 L646.8 786.7 Q643.3 788.4 643 792.3Z M624.4 815.8 Q624.3 817.3 625.6 816.6 L636.4 811.5 Q639.9 809.9 640.1 806 L640.8 793.9 Q640.9 792.4 639.5 793.1 L628.8 798.2 Q625.3 799.9 625.1 803.7Z M606.4 827.2 Q606.3 828.7 607.7 828.1 L618.4 823 Q621.9 821.3 622.1 817.4 L622.8 805.4 Q622.9 803.9 621.6 804.5 L610.8 809.6 Q607.3 811.3 607.1 815.2Z M588.4 838.7 Q588.4 840.2 589.7 839.5 L600.4 834.4 Q603.9 832.8 604.2 828.9 L604.9 816.8 Q604.9 815.3 603.6 816 L592.9 821.1 Q589.4 822.8 589.1 826.6Z M570.5 850.1 Q570.4 851.6 571.7 851 L582.5 845.9 Q586 844.2 586.2 840.3 L586.9 828.3 Q587 826.8 585.6 827.4 L574.9 832.5 Q571.4 834.2 571.2 838.1Z M552.5 861.6 Q552.4 863.1 553.8 862.4 L564.5 857.3 Q568 855.6 568.2 851.8 L568.9 839.7 Q569 838.2 567.7 838.9 L556.9 844 Q553.4 845.6 553.2 849.5Z M534.5 873 Q534.4 874.5 535.8 873.9 L546.5 868.8 Q550 867.1 550.3 863.2 L551 851.2 Q551 849.7 549.7 850.3 L539 855.4 Q535.4 857.1 535.2 861Z M516.6 884.5 Q516.5 886 517.8 885.3 L528.5 880.2 Q532.1 878.5 532.3 874.7 L533 862.6 Q533.1 861.1 531.7 861.8 L521 866.9 Q517.5 868.5 517.2 872.4Z M498.6 895.9 Q498.5 897.4 499.9 896.8 L510.6 891.7 Q514.1 890 514.3 886.1 L515 874.1 Q515.1 872.6 513.7 873.2 L503 878.3 Q499.5 880 499.3 883.9Z M480.6 907.4 Q480.5 908.9 481.9 908.2 L492.6 903.1 Q496.1 901.5 496.4 897.6 L497 885.5 Q497.1 884 495.8 884.7 L485.1 889.8 Q481.5 891.5 481.3 895.3Z M462.6 918.8 Q462.6 920.3 463.9 919.7 L474.6 914.6 Q478.2 912.9 478.4 909 L479.1 897 Q479.2 895.5 477.8 896.1 L467.1 901.2 Q463.6 902.9 463.3 906.8Z M444.7 930.3 Q444.6 931.8 445.9 931.1 L456.7 926 Q460.2 924.4 460.4 920.5 L461.1 908.4 Q461.2 906.9 459.8 907.6 L449.1 912.7 Q445.6 914.4 445.4 918.2Z M674.7 805.1 Q674.6 806.6 676 806 L686.7 800.9 Q690.2 799.2 690.4 795.3 L691.1 783.3 Q691.2 781.8 689.8 782.4 L679.1 787.5 Q675.6 789.2 675.4 793.1Z M656.7 816.6 Q656.6 818.1 658 817.4 L668.7 812.3 Q672.2 810.7 672.5 806.8 L673.1 794.7 Q673.2 793.2 671.9 793.9 L661.2 799 Q657.6 800.7 657.4 804.5Z M638.7 828 Q638.7 829.5 640 828.9 L650.7 823.8 Q654.3 822.1 654.5 818.2 L655.2 806.2 Q655.3 804.7 653.9 805.3 L643.2 810.4 Q639.7 812.1 639.4 816Z M620.8 839.5 Q620.7 841 622 840.3 L632.8 835.2 Q636.3 833.5 636.5 829.7 L637.2 817.6 Q637.3 816.1 635.9 816.8 L625.2 821.9 Q621.7 823.5 621.5 827.4Z M602.8 850.9 Q602.7 852.4 604.1 851.8 L614.8 846.7 Q618.3 845 618.5 841.1 L619.2 829.1 Q619.3 827.6 618 828.2 L607.2 833.3 Q603.7 835 603.5 838.9Z M584.8 862.4 Q584.8 863.9 586.1 863.2 L596.8 858.1 Q600.3 856.5 600.6 852.6 L601.3 840.5 Q601.3 839 600 839.7 L589.3 844.8 Q585.8 846.5 585.5 850.3Z M566.9 873.8 Q566.8 875.3 568.1 874.7 L578.9 869.6 Q582.4 867.9 582.6 864 L583.3 852 Q583.4 850.5 582 851.1 L571.3 856.2 Q567.8 857.9 567.6 861.8Z M548.9 885.3 Q548.8 886.8 550.2 886.1 L560.9 881 Q564.4 879.3 564.6 875.5 L565.3 863.4 Q565.4 861.9 564.1 862.6 L553.3 867.7 Q549.8 869.3 549.6 873.2Z M530.9 896.7 Q530.8 898.2 532.2 897.6 L542.9 892.5 Q546.4 890.8 546.7 886.9 L547.4 874.9 Q547.4 873.4 546.1 874 L535.4 879.1 Q531.8 880.8 531.6 884.7Z M513 908.2 Q512.9 909.7 514.2 909 L524.9 903.9 Q528.5 902.2 528.7 898.4 L529.4 886.3 Q529.5 884.8 528.1 885.5 L517.4 890.6 Q513.9 892.2 513.6 896.1Z M495 919.6 Q494.9 921.1 496.3 920.5 L507 915.4 Q510.5 913.7 510.7 909.8 L511.4 897.8 Q511.5 896.3 510.1 896.9 L499.4 902 Q495.9 903.7 495.7 907.6Z M477 931.1 Q476.9 932.6 478.3 931.9 L489 926.8 Q492.5 925.2 492.8 921.3 L493.4 909.2 Q493.5 907.8 492.2 908.4 L481.5 913.5 Q477.9 915.2 477.7 919Z M459 942.5 Q459 944 460.3 943.4 L471 938.3 Q474.6 936.6 474.8 932.7 L475.5 920.7 Q475.6 919.2 474.2 919.8 L463.5 924.9 Q460 926.6 459.7 930.5Z M441.1 954 Q441 955.5 442.3 954.8 L453.1 949.7 Q456.6 948 456.8 944.2 L457.5 932.1 Q457.6 930.6 456.2 931.3 L445.5 936.4 Q442 938 441.8 941.9Z M653.1 840.3 Q653 841.8 654.4 841.1 L665.1 836 Q668.6 834.4 668.9 830.5 L669.5 818.4 Q669.6 816.9 668.3 817.6 L657.6 822.7 Q654 824.4 653.8 828.2Z M635.1 851.7 Q635.1 853.2 636.4 852.6 L647.1 847.5 Q650.7 845.8 650.9 841.9 L651.6 829.9 Q651.7 828.4 650.3 829 L639.6 834.1 Q636.1 835.8 635.8 839.7Z M617.2 863.2 Q617.1 864.7 618.4 864 L629.2 858.9 Q632.7 857.2 632.9 853.4 L633.6 841.3 Q633.7 839.8 632.3 840.5 L621.6 845.6 Q618.1 847.2 617.9 851.1Z M599.2 874.6 Q599.1 876.1 600.5 875.5 L611.2 870.4 Q614.7 868.7 614.9 864.8 L615.6 852.8 Q615.7 851.3 614.4 851.9 L603.6 857 Q600.1 858.7 599.9 862.6Z M581.2 886.1 Q581.1 887.6 582.5 886.9 L593.2 881.8 Q596.7 880.1 597 876.3 L597.7 864.2 Q597.7 862.7 596.4 863.4 L585.7 868.5 Q582.1 870.1 581.9 874Z M563.3 897.5 Q563.2 899 564.5 898.4 L575.3 893.3 Q578.8 891.6 579 887.7 L579.7 875.7 Q579.8 874.2 578.4 874.8 L567.7 879.9 Q564.2 881.6 564 885.5Z M545.3 909 Q545.2 910.5 546.6 909.8 L557.3 904.7 Q560.8 903 561 899.2 L561.7 887.1 Q561.8 885.6 560.5 886.3 L549.7 891.4 Q546.2 893 546 896.9Z M527.3 920.4 Q527.2 921.9 528.6 921.3 L539.3 916.2 Q542.8 914.5 543.1 910.6 L543.8 898.6 Q543.8 897.1 542.5 897.7 L531.8 902.8 Q528.2 904.5 528 908.4Z M509.4 931.9 Q509.3 933.4 510.6 932.7 L521.3 927.6 Q524.9 925.9 525.1 922.1 L525.8 910 Q525.9 908.5 524.5 909.2 L513.8 914.3 Q510.3 915.9 510 919.8Z M491.4 943.3 Q491.3 944.8 492.7 944.2 L503.4 939.1 Q506.9 937.4 507.1 933.5 L507.8 921.5 Q507.9 920 506.5 920.6 L495.8 925.7 Q492.3 927.4 492.1 931.3Z M473.4 954.8 Q473.3 956.3 474.7 955.6 L485.4 950.5 Q488.9 948.9 489.2 945 L489.8 932.9 Q489.9 931.4 488.6 932.1 L477.9 937.2 Q474.3 938.9 474.1 942.7Z M455.4 966.2 Q455.4 967.7 456.7 967.1 L467.4 962 Q471 960.3 471.2 956.4 L471.9 944.4 Q472 942.9 470.6 943.5 L459.9 948.6 Q456.4 950.3 456.1 954.2Z M437.5 977.7 Q437.4 979.2 438.7 978.5 L449.5 973.4 Q453 971.8 453.2 967.9 L453.9 955.8 Q454 954.3 452.6 955 L441.9 960.1 Q438.4 961.8 438.2 965.6Z M631.5 875.4 Q631.5 876.9 632.8 876.3 L643.5 871.2 Q647.1 869.5 647.3 865.6 L648 853.6 Q648.1 852.1 646.7 852.7 L636 857.8 Q632.5 859.5 632.2 863.4Z M613.6 886.9 Q613.5 888.4 614.8 887.7 L625.6 882.6 Q629.1 881 629.3 877.1 L630 865 Q630.1 863.5 628.7 864.2 L618 869.3 Q614.5 871 614.3 874.8Z M595.6 898.3 Q595.5 899.8 596.9 899.2 L607.6 894.1 Q611.1 892.4 611.3 888.5 L612 876.5 Q612.1 875 610.8 875.6 L600 880.7 Q596.5 882.4 596.3 886.3Z M577.6 909.8 Q577.6 911.2 578.9 910.6 L589.6 905.5 Q593.1 903.8 593.4 900 L594.1 887.9 Q594.1 886.4 592.8 887.1 L582.1 892.2 Q578.6 893.8 578.3 897.7Z M559.7 921.2 Q559.6 922.7 560.9 922.1 L571.7 917 Q575.2 915.3 575.4 911.4 L576.1 899.4 Q576.2 897.9 574.8 898.5 L564.1 903.6 Q560.6 905.3 560.4 909.2Z M541.7 932.7 Q541.6 934.2 543 933.5 L553.7 928.4 Q557.2 926.8 557.4 922.9 L558.1 910.8 Q558.2 909.3 556.9 910 L546.1 915.1 Q542.6 916.8 542.4 920.6Z M523.7 944.1 Q523.6 945.6 525 945 L535.7 939.9 Q539.2 938.2 539.5 934.3 L540.2 922.3 Q540.2 920.8 538.9 921.4 L528.2 926.5 Q524.6 928.2 524.4 932.1Z M505.8 955.6 Q505.7 957 507 956.4 L517.7 951.3 Q521.3 949.6 521.5 945.8 L522.2 933.7 Q522.3 932.2 520.9 932.9 L510.2 938 Q506.7 939.6 506.4 943.5Z M487.8 967 Q487.7 968.5 489.1 967.9 L499.8 962.8 Q503.3 961.1 503.5 957.2 L504.2 945.2 Q504.3 943.7 502.9 944.3 L492.2 949.4 Q488.7 951.1 488.5 955Z M469.8 978.5 Q469.7 980 471.1 979.3 L481.8 974.2 Q485.3 972.5 485.6 968.7 L486.2 956.6 Q486.3 955.1 485 955.8 L474.3 960.9 Q470.7 962.5 470.5 966.4Z M451.8 989.9 Q451.8 991.4 453.1 990.8 L463.8 985.7 Q467.4 984 467.6 980.1 L468.3 968.1 Q468.4 966.6 467 967.2 L456.3 972.3 Q452.8 974 452.5 977.9Z M433.9 1001.4 Q433.8 1002.9 435.1 1002.2 L445.9 997.1 Q449.4 995.5 449.6 991.6 L450.3 979.5 Q450.4 978 449 978.7 L438.3 983.8 Q434.8 985.5 434.6 989.3Z" stroke-width="2.2" />
<path d="M485.8 1020.4 Q485.7 1021.9 487.1 1021.3 L498 1016.2 Q501.5 1014.5 501.7 1010.6 L502.4 998.6 Q502.5 997.1 501.1 997.7 L490.2 1002.8 Q486.7 1004.5 486.5 1008.4Z M482.7 1044.6 Q482.6 1046.1 484 1045.5 L494.9 1040.4 Q498.4 1038.7 498.6 1034.8 L499.3 1022.8 Q499.4 1021.3 498 1021.9 L487.1 1027 Q483.6 1028.7 483.4 1032.6Z M479.6 1068.8 Q479.5 1070.3 480.9 1069.7 L491.8 1064.6 Q495.3 1062.9 495.5 1059 L496.2 1047 Q496.3 1045.5 494.9 1046.1 L484 1051.2 Q480.5 1052.9 480.3 1056.8Z M467.6 1032.1 Q467.5 1033.6 468.9 1033 L479.8 1027.9 Q483.3 1026.2 483.5 1022.3 L484.2 1010.3 Q484.3 1008.8 482.9 1009.4 L472 1014.5 Q468.5 1016.2 468.3 1020.1Z M464.5 1056.3 Q464.4 1057.8 465.8 1057.2 L476.7 1052.1 Q480.2 1050.4 480.4 1046.5 L481.1 1034.5 Q481.2 1033 479.8 1033.6 L468.9 1038.7 Q465.4 1040.4 465.2 1044.3Z M461.4 1080.5 Q461.3 1082 462.7 1081.4 L473.6 1076.3 Q477.1 1074.6 477.3 1070.7 L478 1058.7 Q478.1 1057.2 476.7 1057.8 L465.8 1062.9 Q462.3 1064.6 462.1 1068.5Z M449.4 1043.8 Q449.3 1045.3 450.7 1044.7 L461.6 1039.6 Q465.1 1037.9 465.3 1034 L466 1022 Q466.1 1020.5 464.7 1021.1 L453.8 1026.2 Q450.3 1027.9 450.1 1031.8Z M446.3 1068 Q446.2 1069.5 447.6 1068.9 L458.5 1063.8 Q462 1062.1 462.2 1058.2 L462.9 1046.2 Q463 1044.7 461.6 1045.3 L450.7 1050.4 Q447.2 1052.1 447 1056Z M443.2 1092.2 Q443.1 1093.7 444.5 1093.1 L455.4 1088 Q458.9 1086.3 459.1 1082.4 L459.8 1070.4 Q459.9 1068.9 458.5 1069.5 L447.6 1074.6 Q444.1 1076.3 443.9 1080.2Z" stroke-width="2.2" />
<clipPath id="cl"><path d="M238.1 566.5 L424.3 678.8 L430 900 L176 900 L186 840 L189.8 810 L193.7 780 L200.5 730 L212 680 L218.1 650 L223.6 620 L229.8 600Z"/></clipPath>
<path d="M205.9 651.2 Q205.8 652.7 207.2 652.1 L218.3 646.8 Q221.8 645.1 222.1 641.2 L222.9 629 Q223 627.5 221.6 628.1 L210.5 633.4 Q207 635.1 206.7 639Z M202.3 675.1 Q202.2 676.6 203.6 676 L214.7 670.7 Q218.2 669 218.5 665.1 L219.3 652.9 Q219.3 651.4 218 652 L206.9 657.3 Q203.3 659 203.1 662.9Z M198.7 699 Q198.6 700.5 200 699.9 L211.1 694.6 Q214.6 692.9 214.9 689 L215.7 676.8 Q215.8 675.3 214.4 675.9 L203.3 681.2 Q199.8 682.9 199.5 686.8Z M195.1 722.9 Q195 724.4 196.4 723.8 L207.5 718.5 Q211 716.8 211.3 712.9 L212.1 700.7 Q212.2 699.2 210.8 699.8 L199.7 705.1 Q196.2 706.8 195.9 710.7Z M191.5 746.8 Q191.4 748.3 192.8 747.7 L203.9 742.4 Q207.4 740.7 207.7 736.8 L208.5 724.6 Q208.6 723.1 207.2 723.7 L196.1 729 Q192.6 730.7 192.3 734.6Z M187.9 770.7 Q187.8 772.2 189.2 771.6 L200.3 766.3 Q203.8 764.6 204.1 760.7 L204.9 748.5 Q205 747 203.6 747.6 L192.5 752.9 Q189 754.6 188.7 758.5Z M184.3 794.6 Q184.2 796.1 185.6 795.5 L196.7 790.2 Q200.2 788.5 200.5 784.6 L201.3 772.4 Q201.3 770.9 200 771.5 L188.9 776.8 Q185.3 778.5 185.1 782.4Z M180.7 818.5 Q180.6 820 182 819.4 L193.1 814.1 Q196.6 812.4 196.9 808.5 L197.7 796.3 Q197.8 794.8 196.4 795.4 L185.3 800.7 Q181.8 802.4 181.5 806.3Z M177.1 842.4 Q177 843.9 178.4 843.3 L189.5 838 Q193 836.3 193.3 832.4 L194.1 820.2 Q194.2 818.7 192.8 819.3 L181.7 824.6 Q178.2 826.3 177.9 830.2Z M231.4 591.8 Q231.3 593.3 232.7 592.7 L243.8 587.4 Q247.3 585.7 247.6 581.8 L248.4 569.6 Q248.4 568.1 247.1 568.7 L236 574 Q232.4 575.7 232.2 579.6Z M227.8 615.7 Q227.7 617.2 229.1 616.6 L240.2 611.3 Q243.7 609.6 244 605.7 L244.8 593.5 Q244.8 592 243.5 592.6 L232.4 597.9 Q228.8 599.6 228.6 603.5Z M224.2 639.6 Q224.1 641.1 225.5 640.5 L236.6 635.2 Q240.1 633.5 240.4 629.6 L241.2 617.4 Q241.2 615.9 239.9 616.5 L228.8 621.8 Q225.2 623.5 225 627.4Z M220.6 663.5 Q220.5 665 221.9 664.4 L233 659.1 Q236.5 657.4 236.8 653.5 L237.6 641.3 Q237.6 639.8 236.3 640.4 L225.2 645.7 Q221.6 647.4 221.4 651.3Z M217 687.4 Q216.9 688.9 218.3 688.3 L229.4 683 Q232.9 681.3 233.2 677.4 L234 665.2 Q234 663.7 232.7 664.3 L221.6 669.6 Q218 671.3 217.8 675.2Z M213.4 711.3 Q213.3 712.8 214.7 712.2 L225.8 706.9 Q229.3 705.2 229.6 701.3 L230.4 689.1 Q230.4 687.6 229.1 688.2 L218 693.5 Q214.4 695.2 214.2 699.1Z M209.8 735.2 Q209.7 736.7 211.1 736.1 L222.2 730.8 Q225.7 729.1 226 725.2 L226.8 713 Q226.8 711.5 225.5 712.1 L214.4 717.4 Q210.8 719.1 210.6 723Z M206.2 759.1 Q206.1 760.6 207.5 760 L218.6 754.7 Q222.1 753 222.4 749.1 L223.2 736.9 Q223.2 735.4 221.9 736 L210.8 741.3 Q207.2 743 207 746.9Z M202.6 783 Q202.5 784.5 203.9 783.9 L215 778.6 Q218.5 776.9 218.8 773 L219.6 760.8 Q219.6 759.3 218.3 759.9 L207.2 765.2 Q203.6 766.9 203.4 770.8Z M199 806.9 Q198.9 808.4 200.3 807.8 L211.4 802.5 Q214.9 800.8 215.2 796.9 L216 784.7 Q216 783.2 214.7 783.8 L203.6 789.1 Q200 790.8 199.8 794.7Z M195.4 830.8 Q195.3 832.3 196.7 831.7 L207.8 826.4 Q211.3 824.7 211.6 820.8 L212.4 808.6 Q212.4 807.1 211.1 807.7 L200 813 Q196.4 814.7 196.2 818.6Z M246.1 604.1 Q246 605.6 247.4 605 L258.5 599.7 Q262.1 598 262.3 594.1 L263.1 581.9 Q263.2 580.4 261.8 581 L250.7 586.3 Q247.2 588 246.9 591.9Z M242.5 628 Q242.4 629.5 243.8 628.9 L254.9 623.6 Q258.4 621.9 258.7 618 L259.5 605.8 Q259.6 604.3 258.2 604.9 L247.1 610.2 Q243.6 611.9 243.3 615.8Z M238.9 651.9 Q238.8 653.4 240.2 652.8 L251.3 647.5 Q254.8 645.8 255.1 641.9 L255.9 629.7 Q255.9 628.2 254.6 628.8 L243.5 634.1 Q239.9 635.8 239.7 639.7Z M235.3 675.8 Q235.2 677.3 236.6 676.7 L247.7 671.4 Q251.2 669.7 251.5 665.8 L252.3 653.6 Q252.3 652.1 251 652.7 L239.9 658 Q236.3 659.7 236.1 663.6Z M231.7 699.7 Q231.6 701.2 233 700.6 L244.1 695.3 Q247.6 693.6 247.9 689.7 L248.7 677.5 Q248.8 676 247.4 676.6 L236.3 681.9 Q232.8 683.6 232.5 687.5Z M228.1 723.6 Q228 725.1 229.4 724.5 L240.5 719.2 Q244 717.5 244.3 713.6 L245.1 701.4 Q245.2 699.9 243.8 700.5 L232.7 705.8 Q229.2 707.5 228.9 711.4Z M224.5 747.5 Q224.4 749 225.8 748.4 L236.9 743.1 Q240.4 741.4 240.7 737.5 L241.5 725.3 Q241.6 723.8 240.2 724.4 L229.1 729.7 Q225.6 731.4 225.3 735.3Z M220.9 771.4 Q220.8 772.9 222.2 772.3 L233.3 767 Q236.8 765.3 237.1 761.4 L237.9 749.2 Q237.9 747.7 236.6 748.3 L225.5 753.6 Q221.9 755.3 221.7 759.2Z M217.3 795.3 Q217.2 796.8 218.6 796.2 L229.7 790.9 Q233.2 789.2 233.5 785.3 L234.3 773.1 Q234.3 771.6 233 772.2 L221.9 777.5 Q218.3 779.2 218.1 783.1Z M213.7 819.2 Q213.6 820.7 215 820.1 L226.1 814.8 Q229.6 813.1 229.9 809.2 L230.7 797 Q230.8 795.5 229.4 796.1 L218.3 801.4 Q214.8 803.1 214.5 807Z M264.4 592.5 Q264.3 594 265.7 593.4 L276.8 588.1 Q280.3 586.4 280.6 582.5 L281.4 570.3 Q281.4 568.8 280.1 569.4 L269 574.7 Q265.4 576.4 265.2 580.3Z M260.8 616.4 Q260.8 617.9 262.1 617.3 L273.2 612 Q276.8 610.3 277 606.4 L277.8 594.2 Q277.9 592.7 276.5 593.3 L265.4 598.6 Q261.9 600.3 261.6 604.2Z M257.2 640.3 Q257.1 641.8 258.5 641.2 L269.6 635.9 Q273.1 634.2 273.4 630.3 L274.2 618.1 Q274.2 616.6 272.9 617.2 L261.8 622.5 Q258.2 624.2 258 628.1Z M253.6 664.2 Q253.6 665.7 254.9 665.1 L266 659.8 Q269.6 658.1 269.8 654.2 L270.6 642 Q270.7 640.5 269.3 641.1 L258.2 646.4 Q254.7 648.1 254.4 652Z M250 688.1 Q249.9 689.6 251.3 689 L262.4 683.7 Q265.9 682 266.2 678.1 L267 665.9 Q267.1 664.4 265.7 665 L254.6 670.3 Q251.1 672 250.8 675.9Z M246.4 712 Q246.3 713.5 247.7 712.9 L258.8 707.6 Q262.3 705.9 262.6 702 L263.4 689.8 Q263.4 688.3 262.1 688.9 L251 694.2 Q247.5 695.9 247.2 699.8Z M242.8 735.9 Q242.8 737.4 244.1 736.8 L255.2 731.5 Q258.8 729.8 259 725.9 L259.8 713.7 Q259.9 712.2 258.5 712.8 L247.4 718.1 Q243.9 719.8 243.6 723.7Z M239.2 759.8 Q239.1 761.3 240.5 760.7 L251.6 755.4 Q255.1 753.7 255.4 749.8 L256.2 737.6 Q256.2 736.1 254.9 736.7 L243.8 742 Q240.2 743.7 240 747.6Z M235.6 783.7 Q235.5 785.2 236.9 784.6 L248 779.3 Q251.5 777.6 251.8 773.7 L252.6 761.5 Q252.7 760 251.3 760.6 L240.2 765.9 Q236.7 767.6 236.4 771.5Z M232 807.6 Q231.9 809.1 233.3 808.5 L244.4 803.2 Q247.9 801.5 248.2 797.6 L249 785.4 Q249.1 783.9 247.7 784.5 L236.6 789.8 Q233.1 791.5 232.8 795.4Z M279.1 604.8 Q279.1 606.3 280.4 605.7 L291.5 600.4 Q295.1 598.7 295.3 594.8 L296.1 582.6 Q296.2 581.1 294.8 581.7 L283.7 587 Q280.2 588.7 279.9 592.6Z M275.5 628.7 Q275.4 630.2 276.8 629.6 L287.9 624.3 Q291.4 622.6 291.7 618.7 L292.5 606.5 Q292.6 605 291.2 605.6 L280.1 610.9 Q276.6 612.6 276.3 616.5Z M271.9 652.6 Q271.9 654.1 273.2 653.5 L284.3 648.2 Q287.9 646.5 288.1 642.6 L288.9 630.4 Q289 628.9 287.6 629.5 L276.5 634.8 Q273 636.5 272.7 640.4Z M268.3 676.5 Q268.2 678 269.6 677.4 L280.7 672.1 Q284.2 670.4 284.5 666.5 L285.3 654.3 Q285.4 652.8 284 653.4 L272.9 658.7 Q269.4 660.4 269.1 664.3Z M264.7 700.4 Q264.6 701.9 266 701.3 L277.1 696 Q280.6 694.3 280.9 690.4 L281.7 678.2 Q281.8 676.7 280.4 677.3 L269.3 682.6 Q265.8 684.3 265.5 688.2Z M261.1 724.3 Q261.1 725.8 262.4 725.2 L273.5 719.9 Q277.1 718.2 277.3 714.3 L278.1 702.1 Q278.2 700.6 276.8 701.2 L265.7 706.5 Q262.2 708.2 261.9 712.1Z M257.5 748.2 Q257.4 749.7 258.8 749.1 L269.9 743.8 Q273.4 742.1 273.7 738.2 L274.5 726 Q274.6 724.5 273.2 725.1 L262.1 730.4 Q258.6 732.1 258.3 736Z M253.9 772.1 Q253.9 773.6 255.2 773 L266.3 767.7 Q269.9 766 270.1 762.1 L270.9 749.9 Q271 748.4 269.6 749 L258.5 754.3 Q255 756 254.7 759.9Z M250.3 796 Q250.2 797.5 251.6 796.9 L262.7 791.6 Q266.2 789.9 266.5 786 L267.3 773.8 Q267.4 772.3 266 772.9 L254.9 778.2 Q251.4 779.9 251.1 783.8Z M293.8 617.1 Q293.8 618.6 295.1 618 L306.2 612.7 Q309.8 611 310 607.1 L310.8 594.9 Q310.9 593.4 309.5 594 L298.4 599.3 Q294.9 601 294.6 604.9Z M290.2 641 Q290.2 642.5 291.5 641.9 L302.6 636.6 Q306.2 634.9 306.4 631 L307.2 618.8 Q307.3 617.3 305.9 617.9 L294.8 623.2 Q291.3 624.9 291 628.8Z M286.6 664.9 Q286.6 666.4 287.9 665.8 L299 660.5 Q302.6 658.8 302.8 654.9 L303.6 642.7 Q303.7 641.2 302.3 641.8 L291.2 647.1 Q287.7 648.8 287.4 652.7Z M283 688.8 Q282.9 690.3 284.3 689.7 L295.4 684.4 Q298.9 682.7 299.2 678.8 L300 666.6 Q300.1 665.1 298.7 665.7 L287.6 671 Q284.1 672.7 283.8 676.6Z M279.4 712.7 Q279.4 714.2 280.7 713.6 L291.8 708.3 Q295.4 706.6 295.6 702.7 L296.4 690.5 Q296.5 689 295.1 689.6 L284 694.9 Q280.5 696.6 280.2 700.5Z M275.8 736.6 Q275.8 738.1 277.1 737.5 L288.2 732.2 Q291.8 730.5 292 726.6 L292.8 714.4 Q292.9 712.9 291.5 713.5 L280.4 718.8 Q276.9 720.5 276.6 724.4Z M272.2 760.5 Q272.2 762 273.5 761.4 L284.6 756.1 Q288.2 754.4 288.4 750.5 L289.2 738.3 Q289.3 736.8 287.9 737.4 L276.8 742.7 Q273.3 744.4 273 748.3Z M268.6 784.4 Q268.6 785.9 269.9 785.3 L281 780 Q284.6 778.3 284.8 774.4 L285.6 762.2 Q285.7 760.7 284.3 761.3 L273.2 766.6 Q269.7 768.3 269.4 772.2Z M308.5 629.4 Q308.4 630.9 309.8 630.3 L320.9 625 Q324.4 623.3 324.7 619.4 L325.5 607.2 Q325.6 605.7 324.2 606.3 L313.1 611.6 Q309.6 613.3 309.3 617.2Z M304.9 653.3 Q304.8 654.8 306.2 654.2 L317.3 648.9 Q320.8 647.2 321.1 643.3 L321.9 631.1 Q321.9 629.6 320.6 630.2 L309.5 635.5 Q305.9 637.2 305.7 641.1Z M301.3 677.2 Q301.2 678.7 302.6 678.1 L313.7 672.8 Q317.2 671.1 317.5 667.2 L318.3 655 Q318.3 653.5 317 654.1 L305.9 659.4 Q302.3 661.1 302.1 665Z M297.7 701.1 Q297.6 702.6 299 702 L310.1 696.7 Q313.6 695 313.9 691.1 L314.7 678.9 Q314.8 677.4 313.4 678 L302.3 683.3 Q298.8 685 298.5 688.9Z M294.1 725 Q294 726.5 295.4 725.9 L306.5 720.6 Q310 718.9 310.3 715 L311.1 702.8 Q311.1 701.3 309.8 701.9 L298.7 707.2 Q295.1 708.9 294.9 712.8Z M290.5 748.9 Q290.4 750.4 291.8 749.8 L302.9 744.5 Q306.4 742.8 306.7 738.9 L307.5 726.7 Q307.6 725.2 306.2 725.8 L295.1 731.1 Q291.6 732.8 291.3 736.7Z M286.9 772.8 Q286.8 774.3 288.2 773.7 L299.3 768.4 Q302.8 766.7 303.1 762.8 L303.9 750.6 Q303.9 749.1 302.6 749.7 L291.5 755 Q287.9 756.7 287.7 760.6Z M323.2 641.7 Q323.1 643.2 324.5 642.6 L335.6 637.3 Q339.1 635.6 339.4 631.7 L340.2 619.5 Q340.2 618 338.9 618.6 L327.8 623.9 Q324.2 625.6 324 629.5Z M319.6 665.6 Q319.5 667.1 320.9 666.5 L332 661.2 Q335.5 659.5 335.8 655.6 L336.6 643.4 Q336.6 641.9 335.3 642.5 L324.2 647.8 Q320.6 649.5 320.4 653.4Z M316 689.5 Q315.9 691 317.3 690.4 L328.4 685.1 Q331.9 683.4 332.2 679.5 L333 667.3 Q333.1 665.8 331.7 666.4 L320.6 671.7 Q317.1 673.4 316.8 677.3Z M312.4 713.4 Q312.3 714.9 313.7 714.3 L324.8 709 Q328.3 707.3 328.6 703.4 L329.4 691.2 Q329.4 689.7 328.1 690.3 L317 695.6 Q313.4 697.3 313.2 701.2Z M308.8 737.3 Q308.8 738.8 310.1 738.2 L321.2 732.9 Q324.8 731.2 325 727.3 L325.8 715.1 Q325.9 713.6 324.5 714.2 L313.4 719.5 Q309.9 721.2 309.6 725.1Z M305.2 761.2 Q305.1 762.7 306.5 762.1 L317.6 756.8 Q321.1 755.1 321.4 751.2 L322.2 739 Q322.2 737.5 320.9 738.1 L309.8 743.4 Q306.2 745.1 306 749Z M337.9 654 Q337.8 655.5 339.2 654.9 L350.3 649.6 Q353.8 647.9 354.1 644 L354.9 631.8 Q354.9 630.3 353.6 630.9 L342.5 636.2 Q338.9 637.9 338.7 641.8Z M334.3 677.9 Q334.2 679.4 335.6 678.8 L346.7 673.5 Q350.2 671.8 350.5 667.9 L351.3 655.7 Q351.4 654.2 350 654.8 L338.9 660.1 Q335.4 661.8 335.1 665.7Z M330.7 701.8 Q330.6 703.3 332 702.7 L343.1 697.4 Q346.6 695.7 346.9 691.8 L347.7 679.6 Q347.8 678.1 346.4 678.7 L335.3 684 Q331.8 685.7 331.5 689.6Z M327.1 725.7 Q327.1 727.2 328.4 726.6 L339.5 721.3 Q343.1 719.6 343.3 715.7 L344.1 703.5 Q344.2 702 342.8 702.6 L331.7 707.9 Q328.2 709.6 327.9 713.5Z M323.5 749.6 Q323.4 751.1 324.8 750.5 L335.9 745.2 Q339.4 743.5 339.7 739.6 L340.5 727.4 Q340.6 725.9 339.2 726.5 L328.1 731.8 Q324.6 733.5 324.3 737.4Z M352.6 666.3 Q352.5 667.8 353.9 667.2 L365 661.9 Q368.5 660.2 368.8 656.3 L369.6 644.1 Q369.6 642.6 368.3 643.2 L357.2 648.5 Q353.6 650.2 353.4 654.1Z M349 690.2 Q348.9 691.7 350.3 691.1 L361.4 685.8 Q364.9 684.1 365.2 680.2 L366 668 Q366 666.5 364.7 667.1 L353.6 672.4 Q350 674.1 349.8 678Z M345.4 714.1 Q345.3 715.6 346.7 715 L357.8 709.7 Q361.3 708 361.6 704.1 L362.4 691.9 Q362.4 690.4 361.1 691 L350 696.3 Q346.4 698 346.2 701.9Z M341.8 738 Q341.7 739.5 343.1 738.9 L354.2 733.6 Q357.7 731.9 358 728 L358.8 715.8 Q358.8 714.3 357.5 714.9 L346.4 720.2 Q342.8 721.9 342.6 725.8Z M370.9 654.7 Q370.9 656.2 372.2 655.6 L383.3 650.3 Q386.9 648.6 387.1 644.7 L387.9 632.5 Q388 631 386.6 631.6 L375.5 636.9 Q372 638.6 371.7 642.5Z M367.3 678.6 Q367.2 680.1 368.6 679.5 L379.7 674.2 Q383.2 672.5 383.5 668.6 L384.3 656.4 Q384.4 654.9 383 655.5 L371.9 660.8 Q368.4 662.5 368.1 666.4Z M363.7 702.5 Q363.7 704 365 703.4 L376.1 698.1 Q379.7 696.4 379.9 692.5 L380.7 680.3 Q380.8 678.8 379.4 679.4 L368.3 684.7 Q364.8 686.4 364.5 690.3Z M360.1 726.4 Q360.1 727.9 361.4 727.3 L372.5 722 Q376.1 720.3 376.3 716.4 L377.1 704.2 Q377.2 702.7 375.8 703.3 L364.7 708.6 Q361.2 710.3 360.9 714.2Z M382 690.9 Q381.9 692.4 383.3 691.8 L394.4 686.5 Q397.9 684.8 398.2 680.9 L399 668.7 Q399.1 667.2 397.7 667.8 L386.6 673.1 Q383.1 674.8 382.8 678.7Z M378.4 714.8 Q378.3 716.3 379.7 715.7 L390.8 710.4 Q394.3 708.7 394.6 704.8 L395.4 692.6 Q395.4 691.1 394.1 691.7 L383 697 Q379.4 698.7 379.2 702.6Z" stroke-width="2.2" clip-path="url(#cl)"/>
<path d="M190.6 894.8 Q190.5 896.3 191.9 895.7 L203.6 890.2 Q207.2 888.5 207.4 884.6 L208.2 872.6 Q208.3 871.1 206.9 871.7 L195.2 877.2 Q191.7 878.9 191.4 882.8Z M187.6 918.7 Q187.5 920.2 188.9 919.6 L200.6 914.1 Q204.2 912.4 204.4 908.5 L205.2 896.5 Q205.3 895 203.9 895.6 L192.2 901.1 Q188.7 902.8 188.4 906.7Z M184.6 942.6 Q184.5 944.1 185.9 943.5 L197.6 938 Q201.2 936.3 201.4 932.4 L202.2 920.4 Q202.3 918.9 200.9 919.5 L189.2 925 Q185.7 926.7 185.4 930.6Z M209.8 882.7 Q209.7 884.2 211.1 883.6 L222.8 878.1 Q226.3 876.4 226.6 872.5 L227.4 860.5 Q227.5 859 226.1 859.6 L214.4 865.1 Q210.8 866.8 210.6 870.7Z M206.8 906.6 Q206.7 908.1 208.1 907.5 L219.8 902 Q223.3 900.3 223.6 896.4 L224.4 884.4 Q224.5 882.9 223.1 883.5 L211.4 889 Q207.8 890.7 207.6 894.6Z M203.8 930.5 Q203.7 932 205.1 931.4 L216.8 925.9 Q220.3 924.2 220.6 920.3 L221.4 908.3 Q221.5 906.8 220.1 907.4 L208.4 912.9 Q204.8 914.6 204.6 918.5Z M229 870.6 Q228.9 872.1 230.3 871.5 L242 866 Q245.6 864.3 245.8 860.4 L246.6 848.4 Q246.7 846.9 245.3 847.5 L233.6 853 Q230.1 854.7 229.8 858.6Z M226 894.5 Q225.9 896 227.3 895.4 L239 889.9 Q242.6 888.2 242.8 884.3 L243.6 872.3 Q243.7 870.8 242.3 871.4 L230.6 876.9 Q227.1 878.6 226.8 882.5Z M223 918.4 Q222.9 919.9 224.3 919.3 L236 913.8 Q239.6 912.1 239.8 908.2 L240.6 896.2 Q240.7 894.7 239.3 895.3 L227.6 900.8 Q224.1 902.5 223.8 906.4Z" stroke-width="2.2" />
<path d="M205.6 545.5 C203.4 554.6 195.5 587.6 192.4 600 C189.3 612.4 189.1 611.7 187.2 620 C185.3 628.3 183.3 640 181.2 650 C179.1 660 177.4 666.7 174.6 680 C171.8 693.3 167.2 713.3 164.1 730 C161 746.7 158.5 764.7 156.2 780 C153.9 795.3 151.5 811.8 150.2 821.8 C148.9 831.8 149.6 830.3 148.5 840 C147.4 849.7 145.3 865.8 143.8 880 C142.3 894.2 140.8 909.5 139.5 925 C138.2 940.5 136.3 964.8 135.7 972.7" stroke-width="2" />
<path d="M223.8 557.6 C221.9 564.7 214.7 589.6 212.2 600 C209.7 610.4 210.6 611.7 208.7 620 C206.8 628.3 203 640 200.5 650 C198 660 196.7 666.7 193.9 680 C191.1 693.3 187 713.3 183.9 730 C180.8 746.7 177.5 766.7 175.5 780 C173.5 793.3 173 800 171.7 810 C170.4 820 169.2 828.3 167.8 840 C166.4 851.7 164.9 865.8 163.5 880 C162.1 894.2 160.6 909.5 159.3 925 C158 940.5 156.5 964.8 155.9 972.7" stroke-width="1.6" />
<path d="M238.1 565.9 C236.7 571.6 232.2 591 229.8 600 C227.4 609 225.6 611.7 223.6 620 C221.6 628.3 220 640 218.1 650 C216.2 660 214.9 666.7 212 680 C209.1 693.3 203.6 713.3 200.5 730 C197.4 746.7 195.5 766.7 193.7 780 C191.9 793.3 191.1 800 189.8 810 C188.5 820 187.4 828.3 186 840 C184.6 851.7 183 865.8 181.5 880 C180 894.2 178.2 909.5 176.8 925 C175.4 940.5 173.7 964.8 173.1 972.7" stroke-width="2" />
<path d="M135.7 972.7 C135.7 974.1 134.9 978.4 135.5 981 C136.1 983.6 135.9 985.6 139.5 988.5 C143.1 991.4 154 996.8 156.9 998.5" stroke-width="2" />
<path d="M135.2 975.3 L156.9 986.5" stroke-width="1.8" />
<ellipse cx="164.5" cy="986" rx="9.5" ry="12.5" transform="rotate(22 164.5 986)" stroke-width="2" class="wf"/>
<ellipse cx="165.5" cy="986" rx="6.8" ry="9.8" transform="rotate(22 165.5 986)" stroke-width="1.8" />
<path d="M202.5 596.5 L190 607 L178.4 620 L171 634 L165.2 650 L159.2 680 L148.7 730 L140.3 780 L139.2 802 L141.9 813 L157.3 824.6 L158.4 815.2 L148 809.7 L145.8 802 L147.4 780 L154.2 730 L165.2 680 L171.3 650 L177 637 L184.5 624 L194 612.5 L205.5 603 Z" class="wf" stroke="none" style="stroke:none"/>
<path d="M202.5 596.5 C200.4 598.2 194 603.1 190 607 C186 610.9 181.6 615.5 178.4 620 C175.2 624.5 173.2 629 171 634 C168.8 639 167.2 642.3 165.2 650 C163.2 657.7 161.9 666.7 159.2 680 C156.4 693.3 151.8 713.3 148.7 730 C145.5 746.7 141.9 768 140.3 780 C138.7 792 138.9 796.5 139.2 802 C139.5 807.5 138.9 809.2 141.9 813 C144.9 816.8 154.7 822.7 157.3 824.6" stroke-width="2" />
<path d="M205.5 603 C203.6 604.6 197.5 609 194 612.5 C190.5 616 187.3 619.9 184.5 624 C181.7 628.1 179.2 632.7 177 637 C174.8 641.3 173.3 642.8 171.3 650 C169.3 657.2 168 666.7 165.2 680 C162.3 693.3 157.2 713.3 154.2 730 C151.2 746.7 148.8 768 147.4 780 C146 792 145.7 797 145.8 802 C145.9 807 145.9 807.5 148 809.7 C150.1 811.9 156.7 814.3 158.4 815.2" stroke-width="2" />
<path d="M202.5 596.5 Q207.5 597.5 205.5 603" stroke-width="2" />
<path d="M157.3 824.6 Q163 823.5 161.5 818.5 L158.4 815.2" stroke-width="2" />
<path d="M449.8 682.3 C449.4 683.6 449.3 683.7 447.3 690 C445.3 696.3 440.6 710 438 720 C435.4 730 434 740 431.9 750 C429.8 760 428.2 765 425.1 780 C422 795 416.5 823.3 413 840 C409.5 856.7 406.8 865 404.1 880 C401.4 895 398.9 915.2 396.8 930 C394.7 944.8 392.6 958.5 391.3 968.5 C390 978.5 390.2 979.8 389.1 990 C388 1000.2 385.9 1017.5 384.5 1030 C383.1 1042.5 381.9 1053.3 380.8 1065 C379.8 1076.7 378.8 1091.7 378.2 1100 C377.6 1108.3 377.5 1112.5 377.4 1115" stroke-width="2" />
<path d="M472 681.2 C471.6 682.7 471.4 683.5 469.4 690 C467.4 696.5 462.9 710 460 720 C457.1 730 454.8 740 452.3 750 C449.8 760 448.2 765 445 780 C441.8 795 436.3 823.3 432.8 840 C429.3 856.7 426.7 865 423.9 880 C421.1 895 418.8 911.7 416.1 930 C413.4 948.3 410 973.3 407.8 990 C405.6 1006.7 404.2 1018.3 402.8 1030 C401.4 1041.7 400.3 1046.1 399.4 1060 C398.5 1073.9 397.9 1104.3 397.6 1113.2" stroke-width="1.6" />
<path d="M759.4 485.5 C737.8 499.6 664.7 547.8 630 570.3 C595.3 592.8 569.1 608.9 551.3 620.7 C533.5 632.5 530.1 634.8 523 640.9 C515.9 647 513.6 650.7 508.9 657.1 C504.2 663.5 498.6 673.8 494.8 679.3 C491.1 684.8 489.5 683.2 486.4 690 C483.3 696.8 478.9 710 476 720 C473.1 730 471.2 740 468.8 750 C466.4 760 464.7 765 461.5 780 C458.3 795 452.8 823.3 449.4 840 C446 856.7 443.5 865 441 880 C438.5 895 436.7 911.7 434.2 930 C431.7 948.3 428.1 973.3 426 990 C423.9 1006.7 422.7 1018.3 421.5 1030 C420.3 1041.7 419.7 1047.7 418.7 1060 C417.7 1072.3 416.2 1091.2 415.5 1104 C414.8 1116.8 414.8 1131.5 414.7 1137" stroke-width="2" />
<path d="M536.3 603.5 C536.1 605 538 608.5 535.1 612.7 C532.2 616.9 524 623.4 519 628.8 C514 634.2 509.6 639.5 504.9 644.9 C500.2 650.3 494.7 655.3 490.7 661.1 C486.7 666.9 482.6 676.5 481 679.6" stroke-width="2" />
<path d="M377.4 1115 C377.1 1116.5 375.5 1121.3 375.6 1124.2 C375.8 1127.1 374.8 1129.3 378.3 1132.5 C381.8 1135.7 393.6 1141.7 396.7 1143.5" stroke-width="2" />
<path d="M378.3 1116.9 L396.7 1122" stroke-width="1.8" />
<ellipse cx="405" cy="1128.8" rx="10" ry="13.8" transform="rotate(22 405 1128.8)" stroke-width="2" class="wf"/>
<ellipse cx="406" cy="1128.8" rx="7.2" ry="10.8" transform="rotate(22 406 1128.8)" stroke-width="1.8" />
<path d="M441 746.5 L428 757 L419.5 768 L412.5 780 L398.2 840 L390.4 880 L382.5 930 L379.7 948.7 L383 960.8 L398.4 973.5 L400.1 965.2 L390.7 959.7 L386.9 952 L388 930 L397 880 L405.3 840 L418 784 L424.5 773.5 L433 763.5 L445 753 Z" class="wf" style="stroke:none"/>
<path d="M441 746.5 C438.8 748.2 431.6 753.4 428 757 C424.4 760.6 422.1 764.2 419.5 768 C416.9 771.8 416.1 768 412.5 780 C408.9 792 401.9 823.3 398.2 840 C394.5 856.7 393 865 390.4 880 C387.8 895 384.3 918.5 382.5 930 C380.7 941.5 379.6 943.6 379.7 948.7 C379.8 953.8 379.9 956.7 383 960.8 C386.1 964.9 395.8 971.4 398.4 973.5" stroke-width="2" />
<path d="M445 753 C443 754.8 436.4 760.1 433 763.5 C429.6 766.9 427 770.1 424.5 773.5 C422 776.9 421.2 772.9 418 784 C414.8 795.1 408.8 824 405.3 840 C401.8 856 399.9 865 397 880 C394.1 895 389.7 918 388 930 C386.3 942 386.4 947 386.9 952 C387.3 957 388.5 957.5 390.7 959.7 C392.9 961.9 398.5 964.3 400.1 965.2" stroke-width="2" />
<path d="M441 746.5 Q446.5 747 445 753" stroke-width="2.2" />
<path d="M398.4 973.5 Q404.5 973 403.4 968.5 L400.1 965.2" stroke-width="2" />
<path d="M398.2 869 L404.2 871 L400.4 888 L394.5 886.5" stroke-width="1.6" />
<path d="M750.3 472.4 C751.5 473.4 755.9 475.9 757.8 478.5 C759.7 481.1 759.5 478.9 761.5 487.7 C763.5 496.5 767.1 515.7 769.5 531.1 C771.9 546.5 774.4 566.5 776.1 580 C777.8 593.5 778.5 598.7 779.6 612 C780.7 625.3 781.8 643.7 782.5 660 C783.2 676.3 783.8 693.3 784 710 C784.2 726.7 784.1 745 784 760 C783.9 775 783.7 789.7 783.6 800 C783.5 810.3 783.6 814.7 783.2 822 C782.8 829.3 782.4 837.8 781.4 844 C780.4 850.2 778.8 853.9 777 859.4 C775.2 864.9 772.8 871.4 770.4 877.1 C768 882.8 765.8 888.7 762.7 893.6 C759.6 898.5 755.2 902.4 751.7 906.8 C748.2 911.2 747.2 912.8 741.7 920 C736.2 927.2 726.3 940 718.6 950 C710.9 960 702.9 970.8 695.6 980 C688.3 989.2 681.4 996.9 675 1005 C668.6 1013.1 662.8 1021.1 657.4 1028.4 C652 1035.7 647.7 1042.9 642.8 1049 C637.9 1055.1 633 1060.7 628.1 1065.1 C623.2 1069.5 620.8 1070.8 613.4 1075.4 C606 1080.1 592.9 1087.5 584 1093 C575.1 1098.5 570.7 1102 560 1108.6 C549.3 1115.1 533.5 1124.3 520 1132.3 C506.6 1140.2 488.8 1151.7 479.3 1156.3 C469.8 1160.9 468.3 1160.5 462.8 1160 C457.3 1159.5 451.7 1156.3 446.2 1153.6 C440.7 1150.8 435.2 1146.7 430 1143.5 C424.8 1140.3 417.5 1135.8 415 1134.3" stroke-width="2" />
<path d="M741.3 498.7 C742.4 503.9 746 519.5 748 530 C750 540.5 751.7 551.4 753.3 561.4 C754.9 571.4 756.4 576.5 757.8 590 C759.1 603.5 760.2 622.4 761.4 642.4 C762.6 662.4 764.4 690.4 765 710 C765.6 729.6 765 745 765 760 C765 775 765 788.3 765 800 C765 811.7 765.3 820.8 764.9 830 C764.5 839.2 764.4 848.1 762.7 855 C761.1 861.9 758 865.9 755 871.6 C752 877.3 748.1 884.6 745 889.2 C741.9 893.8 740.1 894 736.2 899.1 C732.4 904.2 728.1 911.5 721.9 920 C715.7 928.5 706.6 940 699 950 C691.4 960 683.4 971.1 676.5 980 C669.6 988.9 663.5 995.7 657.4 1003.5 C651.3 1011.3 644.7 1020.6 639.8 1027 C634.9 1033.4 633 1037 628.1 1041.7 C623.2 1046.4 617.9 1050 610.5 1054.9 C603.1 1059.8 592.4 1065.9 584 1071 C575.6 1076.1 570.7 1079.1 560 1085.7 C549.3 1092.3 531.9 1103.3 520 1110.8 C508.1 1118.3 496.1 1126.7 488.4 1130.6 C480.7 1134.5 478.7 1134.3 473.8 1134.3 C468.9 1134.3 465.2 1133.4 459.1 1130.6 C453 1127.8 444.4 1121.9 437 1117.5 C429.6 1113.1 418.7 1106.2 415 1104" stroke-width="2" />
<path d="M739.5 497 L743 506" stroke-width="1.6" />
<path d="M174.5 962.6 C177.6 964 187.5 969.4 193.3 970.7 C199.1 972.1 206.8 970.7 209.5 970.7" stroke-width="1.8" />
<path d="M209.5 970.7 L283.4 928.8 L295.5 935.8 L293.5 959.1" stroke-width="1.8" />
<path d="M193.3 970.7 C195.3 971.7 200.8 975.9 205.5 976.8 C210.2 977.6 219 976 221.7 975.8" stroke-width="1.8" />
<path d="M221.7 975.8 L295.5 936.3" stroke-width="1.8" />
<path d="M174.5 989 C177.6 991 186.1 999.1 193.3 1001.1 C200.5 1003.1 213.6 1001.1 217.6 1001.1" stroke-width="2" />
<path d="M217.6 1001.1 L293.5 959.1 L314.8 971.3 L314.8 1020.9" stroke-width="2" />
<path d="M283.4 927.7 L289.5 890.3 L349.2 855.9 L360.3 843.8 L403.8 816.4" stroke-width="1.8" />
<path d="M360.3 843.8 L394.7 865" stroke-width="1.6" />
<path d="M349.2 855.9 L389.6 880.2" stroke-width="1.6" />
<path d="M289.5 893.5 L379.5 942.9" stroke-width="1.8" />
<ellipse cx="346.7" cy="892.3" rx="20" ry="11.2" transform="rotate(-8 346.7 892.3)" stroke-width="2" />
<path d="M329 886 Q345 876 362 884" stroke-width="2.4" />
<ellipse cx="355.2" cy="872.1" rx="4.6" ry="3.6" transform="rotate(0 355.2 872.1)" stroke-width="1.5" />
<path d="M350.6 872.1 L350.6 875.6 A4.6 3.6 0 0 0 359.8 875.6 L359.8 872.1" stroke-width="1.5" />
<ellipse cx="376.5" cy="884.2" rx="4.6" ry="3.6" transform="rotate(0 376.5 884.2)" stroke-width="1.5" />
<path d="M371.9 884.2 L371.9 887.7 A4.6 3.6 0 0 0 381.1 887.7 L381.1 884.2" stroke-width="1.5" />
<ellipse cx="316.8" cy="895.4" rx="4.6" ry="3.6" transform="rotate(0 316.8 895.4)" stroke-width="1.5" />
<path d="M312.2 895.4 L312.2 898.9 A4.6 3.6 0 0 0 321.4 898.9 L321.4 895.4" stroke-width="1.5" />
<ellipse cx="338" cy="907.5" rx="4.6" ry="3.6" transform="rotate(0 338 907.5)" stroke-width="1.5" />
<path d="M333.4 907.5 L333.4 911 A4.6 3.6 0 0 0 342.6 911 L342.6 907.5" stroke-width="1.5" />
<ellipse cx="315.2" cy="957.1" rx="1.5" ry="1.2" transform="rotate(0 315.2 957.1)" stroke-width="1.2" class="bf"/>
<ellipse cx="338.4" cy="963.2" rx="1.8" ry="1.6" transform="rotate(0 338.4 963.2)" stroke-width="1.2" class="bf"/>
<path d="M380 1062 L314.3 1021.9 L309 1022.5 L302.7 1027.9 L374 1074" stroke-width="2" />
<ellipse cx="313.5" cy="1028" rx="2.4" ry="1.3" transform="rotate(15 313.5 1028)" stroke-width="1.2" class="bf"/>
<path d="M131 955.2 L109.5 942.7 C103 943.2 91.5 956.8 98 961.8 L121.1 974.4" stroke-width="2" class="wf"/>
<ellipse cx="126" cy="964.8" rx="6.4" ry="10.8" transform="rotate(27.3 126 964.8)" stroke-width="2" class="wf"/>
<ellipse cx="126.5" cy="964.8" rx="3.6" ry="5.9" transform="rotate(27.3 126.5 964.8)" stroke-width="1.8" />
<path d="M368.8 1102.2 L345.7 1089 C339.2 1089.5 329.3 1100.5 335.8 1105.5 L358.9 1118.7" stroke-width="2" class="wf"/>
<ellipse cx="363.9" cy="1110.5" rx="6.4" ry="9.6" transform="rotate(31 363.9 1110.5)" stroke-width="2" class="wf"/>
<ellipse cx="364.4" cy="1110.5" rx="3.6" ry="5.3" transform="rotate(31 364.4 1110.5)" stroke-width="1.8" />
<ellipse cx="834.1" cy="849.8" rx="11.2" ry="12" transform="rotate(0 834.1 849.8)" stroke-width="1.6" />
<ellipse cx="834.5" cy="850.5" rx="8" ry="9" transform="rotate(0 834.5 850.5)" stroke-width="1.3" />
<ellipse cx="835.5" cy="852" rx="4.2" ry="5.4" transform="rotate(10 835.5 852)" stroke-width="1.6" />
<path d="M828 842 L840 839.5" stroke-width="1.2" />
<path d="M826 853 L831 846 L841 844" stroke-width="1.2" />
<path d="M830 858 L836 847 L843 849" stroke-width="1.2" />
<path d="M827 848 L829 858" stroke-width="1" />
<path d="M839 857 L842 848" stroke-width="1" />
<path d="M848.5 866 Q848 855 856 852.5 Q864 850 871 855 Q877 860 876.5 868 Q876 876 868 878.5 Q858 880.5 852.5 877 Q849 874 848.5 866Z" stroke-width="2" />
<path d="M856 852.5 L858.5 861 L853.5 870 L855.5 878.5" stroke-width="1.5" />
<path d="M858.5 861 L868.5 857.5 L871 855" stroke-width="1.4" />
<path d="M853.5 870 L849.5 868.5" stroke-width="1.2" />
<path d="M858.5 861 Q866 866 864 877" stroke-width="1" />
<ellipse cx="579.2" cy="331.1" rx="5.6" ry="7" transform="rotate(-15 579.2 331.1)" stroke-width="2.8" />
<ellipse cx="580" cy="331.6" rx="2" ry="3.2" transform="rotate(-15 580 331.6)" stroke-width="2.6" />
<path d="M576.2 325.1 L580.2 328.6" stroke-width="1.6" />
<ellipse cx="627.8" cy="363" rx="5.6" ry="7" transform="rotate(-15 627.8 363)" stroke-width="2.8" />
<ellipse cx="628.6" cy="363.5" rx="2" ry="3.2" transform="rotate(-15 628.6 363.5)" stroke-width="2.6" />
<path d="M624.8 357 L628.8 360.5" stroke-width="1.6" />
<path d="M249.6 197 L249.6 202.5 A6.8 3.8 0 0 0 263.2 202.5 L263.2 197" stroke-width="2.6" />
<ellipse cx="256.4" cy="197" rx="6.8" ry="3.6" transform="rotate(0 256.4 197)" stroke-width="2.6" />
<ellipse cx="256.4" cy="196.8" rx="3.4" ry="1.4" transform="rotate(0 256.4 196.8)" stroke-width="2.2" />
<path d="M252.5 203.5 L252.5 201.5" stroke-width="1.6" />
<path d="M260.2 203.5 L260.2 201.5" stroke-width="1.6" />
<ellipse cx="256.3" cy="216.2" rx="7.2" ry="4.2" transform="rotate(0 256.3 216.2)" stroke-width="2.8" />
<ellipse cx="256.3" cy="215.9" rx="2.6" ry="1.6" transform="rotate(0 256.3 215.9)" stroke-width="2.4" />
<path d="M249.3 217.6 Q256.3 224 263.3 217.6" stroke-width="2" />
<path d="M383.8 146.9 L531 235.2 L522.3 242.2 L515.5 237.5" stroke-width="2" />
<path d="M383.8 146.9 L379.4 149.8 L524 236.6" stroke-width="1.8" />
<path d="M366.3 149.8 L372.4 146.8 L519 234.8" stroke-width="1.8" />
<path d="M366.3 149.8 L508.4 239.6 L516 234.5" stroke-width="2" />
<ellipse cx="405.5" cy="164.3" rx="1.4" ry="1.4" transform="rotate(0 405.5 164.3)" stroke-width="1" class="bf"/>
<ellipse cx="510.1" cy="228.3" rx="1.4" ry="1.4" transform="rotate(0 510.1 228.3)" stroke-width="1" class="bf"/>
<clipPath id="cg3"><path d="M0 0 H1090 V1334 H0Z M214 310.9 L347.1 229.8 L544.4 355.5 L415.3 431.2Z" clip-rule="evenodd"/></clipPath>
<clipPath id="cg3o"><path d="M0 0 H1090 V1334 H0Z M242.2 374.5 Q232 368.2 242 361.6 L330.3 303.5 Q347 292.5 364 303 L519 398.5 Q536 409 519.4 420.1 L444.6 470.3 Q423 484.8 400.8 471.3Z" clip-rule="evenodd"/></clipPath>
<g clip-path="url(#cg3)">
<path d="M238.1 376.6 Q235.5 375 238 373.4 L330.1 314.7 Q347 304 364 314.5 L524.9 413.4 Q530 416.5 525 419.9 L444.5 474.9 Q423 489.6 400.8 476Z" stroke-width="1.8" clip-path="url(#cg3o)"/>
<path d="M242.2 374.5 Q232 368.2 242 361.6 L330.3 303.5 Q347 292.5 364 303 L519 398.5 Q536 409 519.4 420.1 L444.6 470.3 Q423 484.8 400.8 471.3Z" stroke-width="1.8" class="wf"/>
<path d="M237.6 366 L237.6 376" stroke-width="1.6" />
<path d="M527.2 404 L527.2 414" stroke-width="1.6" />
<path d="M242.9 384.5 L358.5 349.2" stroke-width="1.2" stroke-dasharray="40 4 6 4"/>
<path d="M258 384 L302 369" stroke-width="1.2" />
<path d="M302.4 392.8 L414.7 360.4" stroke-width="1.2" stroke-dasharray="36 4 6 4"/>
<path d="M332 387.8 L418 363" stroke-width="1.2" stroke-dasharray="30 5 5 5"/>
<path d="M408 391 L480.7 373" stroke-width="1.2" stroke-dasharray="26 4 5 4"/>
<path d="M438 389.5 L484 376.5" stroke-width="1.2" />
</g>
<path d="M246.6 330.4 Q214 310.9 246.5 291.1 L308.7 253.2 Q347.1 229.8 385.1 254 L512.4 335.1 Q544.4 355.5 511.6 374.7 L446.4 413 Q415.3 431.2 384.4 412.7Z" stroke-width="2" class="wf"/>
<path d="M252.1 328.3 Q222.9 310.9 251.9 293.2 L312 256.6 Q347 235.2 381.6 257.2 L506.9 337.1 Q535.6 355.3 506.3 372.5 L442.9 409.7 Q415.3 425.9 387.9 409.4Z" stroke-width="2" />
<path d="M256.5 326.7 Q229.9 310.8 256.3 294.7 L315.4 258.7 Q347 239.5 378.2 259.3 L503.4 339.1 Q528.7 355.2 502.8 370.4 L439.5 407.5 Q415.3 421.7 391.3 407.3Z" stroke-width="1.4" />
<clipPath id="cf7"><path d="M258 326.7 Q231.4 310.8 257.9 294.7 L315.4 259.7 Q347 240.4 378.2 260.3 L501.8 339.1 Q527.2 355.2 501.3 370.4 L439.5 406.6 Q415.3 420.7 391.3 406.4Z"/></clipPath>
<g clip-path="url(#cf7)">
<path d="M242.2 374.5 Q232 368.2 242 361.6 L330.3 303.5 Q347 292.5 364 303 L519 398.5 Q536 409 519.4 420.1 L444.6 470.3 Q423 484.8 400.8 471.3Z" stroke-width="1.8"/>
<path d="M445 347.8 L475.6 329.6" stroke-width="1.6" />
<path d="M459.1 357.7 L478.1 347" stroke-width="1.6" />
<path d="M477.4 335.6 L477.4 343.6 A7.8 4.6 0 0 0 493 343.6 L493 335.6" stroke-width="2" class="wf"/>
<ellipse cx="485.2" cy="335.6" rx="7.8" ry="4.6" transform="rotate(0 485.2 335.6)" stroke-width="2" class="wf"/>
<ellipse cx="485.2" cy="335.3" rx="3.5" ry="2.1" transform="rotate(0 485.2 335.3)" stroke-width="1.8" />
<path d="M242.9 384.5 L358.5 349.2" stroke-width="1.2" stroke-dasharray="40 4 6 4"/>
<path d="M302.4 392.8 L414.7 360.4" stroke-width="1.2" stroke-dasharray="36 4 6 4"/>
<path d="M332 387.8 L418 363" stroke-width="1.2" stroke-dasharray="30 5 5 5"/>
<path d="M408 391 L480.7 373" stroke-width="1.2" stroke-dasharray="26 4 5 4"/>
<path d="M438 389.5 L484 376.5" stroke-width="1.2" />
</g>
<path d="M247.3 226.2 L393.4 314.9 L387.7 324 L376.9 334.7 L359.6 322.3 L253.9 257.9 L233.3 247.2 L231.6 243.9 L239 239.8 L240.7 229.9Z" stroke-width="2" class="wf"/>
<path d="M247.3 226.2 L393.4 314.9" stroke-width="2.2" />
<path d="M241.5 228.2 L391 318.9" stroke-width="1.5" />
<path d="M240.2 232.9 L389 323.2" stroke-width="1.5" />
<path d="M239.2 237.8 L386 326.9" stroke-width="1.5" />
<path d="M246 246.9 L363.5 318.2" stroke-width="1.5" />
<path d="M363.5 318.2 L383.5 330.4" stroke-width="1.5" />
<path d="M359.6 322.3 L363.2 317.2" stroke-width="1.8" />
<path d="M387.7 324 L363.2 309.8" stroke-width="1.4" />
<path d="M253.9 257.9 L257.3 252.5" stroke-width="2" />
<path d="M239 239.8 L254.5 249" stroke-width="1.4" />
<path d="M689.1 430 L689.1 404 Q689.5 386 704.6 385 Q708 385 712.2 388.5 L871.4 482.4 Q899 498 901 526 L901 640.9 Q900 660 884.6 660.7 Q879 660 874.7 657.4 L782.2 599.6" stroke-width="2" />
<path d="M707 390.5 L866 484.5 Q893 500 895.3 530 L895.3 652" stroke-width="1.4" />
<path d="M714.5 394.9 L731 447.7" stroke-width="1.2" />
<path d="M724 398 L739 446" stroke-width="1.2" />
<path d="M808.6 551.7 L831.7 624.4" stroke-width="1.2" stroke-dasharray="8 6 60 0"/>
<path d="M823 577 L836.7 634.3" stroke-width="1.2" />
<path d="M753.7 355.8 Q753.7 315.8 788.2 336 L938.8 424.3 Q973.3 444.5 973.3 484.5 L973.3 593.5 Q973.3 627.5 944 610.3 L774.4 510.7 Q753.7 498.6 753.7 474.6Z" stroke-width="2" />
<path d="M758.7 359.5 Q758.7 324.5 788.9 342.2 L937.2 429.2 Q968.3 447.4 968.3 483.4 L968.3 588.8 Q968.3 618.8 942.4 603.6 L775.9 505.9 Q758.7 495.7 758.7 475.7Z" stroke-width="1.6" />
<path d="M764.7 364 Q764.7 335 789.7 349.7 L935.6 435.1 Q962.3 450.8 962.3 481.8 L962.3 583.3 Q962.3 608.3 940.7 595.6 L778.5 500.4 Q764.7 492.3 764.7 476.3Z" stroke-width="2" />
<ellipse cx="843.8" cy="411.6" rx="6.4" ry="10.6" transform="rotate(24 843.8 411.6)" stroke-width="1.8" />
<path d="M842.3 418.5 L827.3 438.5 L858.5 457.2 L842.3 418.5" stroke-width="1.8" />
<path d="M836.5 426.5 L842.5 417 L846.5 428" stroke-width="1.2" />
<path d="M212.4 187.4 L244.3 207.9" stroke-width="2.8" stroke-linecap="butt"/>
<path d="M267.3 194.4 L302.2 187.4" stroke-width="2.8" stroke-linecap="butt"/>
<path d="M197.4 267.8 L238.6 261" stroke-width="2.8" stroke-linecap="butt"/>
<path d="M193.7 331.6 L228.6 322.2" stroke-width="2.8" stroke-linecap="butt"/>
<path d="M222.4 417 L256.8 403.3" stroke-width="2.8" stroke-linecap="butt"/>
<path d="M525.9 186.9 L503.5 208.6" stroke-width="2.8" stroke-linecap="butt"/>
<path d="M607.4 303.6 L591.2 320.3" stroke-width="2.8" stroke-linecap="butt"/>
<path d="M658.5 334.8 L639.8 352.3" stroke-width="2.8" stroke-linecap="butt"/>
<path d="M814.9 401.1 L827.8 407.8" stroke-width="2.8" stroke-linecap="butt"/>
<path d="M863.5 441 L886 449.7" stroke-width="2.8" stroke-linecap="butt"/>
<path d="M967.1 619.4 L978.7 654.1" stroke-width="2.8" stroke-linecap="butt"/>
<path d="M900.4 667.3 L914.3 707" stroke-width="2.8" stroke-linecap="butt"/>
<path d="M882 853.6 L913 843.5" stroke-width="2.8" stroke-linecap="butt"/>
<path d="M114.5 978.3 L109.5 1006.4" stroke-width="2.8" stroke-linecap="butt"/>
<path d="M309.3 978.3 L281.5 1022" stroke-width="2.8" stroke-linecap="butt"/>
<path d="M344.7 1120.3 L338 1143.5" stroke-width="2.8" stroke-linecap="butt"/>
<circle cx="271.4" cy="1037.5" r="17" stroke-width="2.2" class="wf"/>
<text x="271.4" y="1045.5">1</text>
<circle cx="103.6" cy="1024.6" r="17" stroke-width="2.2" class="wf"/>
<text x="103.6" y="1032.6">2</text>
<circle cx="334.1" cy="1160.6" r="17" stroke-width="2.2" class="wf"/>
<text x="334.1" y="1168.6">2</text>
<circle cx="206.9" cy="424" r="17" stroke-width="2.2" class="wf"/>
<text x="206.9" y="432">3</text>
<circle cx="180.8" cy="271.8" r="17" stroke-width="2.2" class="wf"/>
<text x="180.8" y="279.8">4</text>
<circle cx="538.9" cy="171.9" r="17" stroke-width="2.2" class="wf"/>
<text x="538.9" y="179.9">4</text>
<circle cx="319" cy="185.5" r="17" stroke-width="2.2" class="wf"/>
<text x="319" y="193.5">5</text>
<circle cx="200.8" cy="173.4" r="17" stroke-width="2.2" class="wf"/>
<text x="200.8" y="181.4">6</text>
<circle cx="176" cy="336.6" r="17" stroke-width="2.2" class="wf"/>
<text x="176" y="344.6">7</text>
<circle cx="920.9" cy="725.1" r="17" stroke-width="2.2" class="wf"/>
<text x="920.9" y="733.1">8</text>
<circle cx="986.3" cy="670.6" r="17" stroke-width="2.2" class="wf"/>
<text x="986.3" y="678.6">9</text>
<circle cx="931.4" cy="838" r="17" stroke-width="2.2" class="wf"/>
<text x="931.4" y="846">10</text>
<circle cx="798.6" cy="392.3" r="17" stroke-width="2.2" class="wf"/>
<text x="798.6" y="400.3">11</text>
<circle cx="903.5" cy="455.2" r="17" stroke-width="2.2" class="wf"/>
<text x="903.5" y="463.2">12</text>
<circle cx="621.1" cy="288.6" r="17" stroke-width="2.2" class="wf"/>
<text x="621.1" y="296.6">13</text>
<circle cx="674.8" cy="321.1" r="17" stroke-width="2.2" class="wf"/>
<text x="674.8" y="329.1">14</text>
</svg>
</body></html>
